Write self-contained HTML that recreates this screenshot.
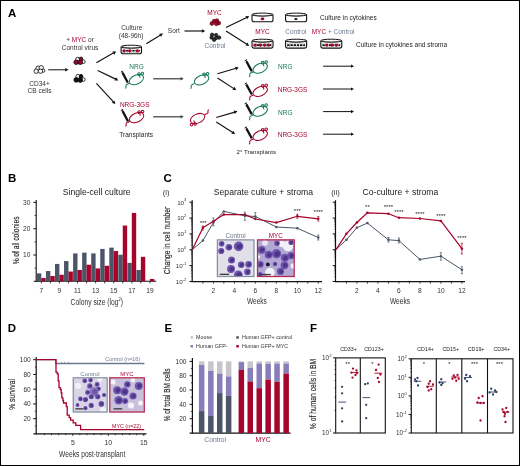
<!DOCTYPE html>
<html><head><meta charset="utf-8"><style>
html,body{margin:0;padding:0;background:#fff;}
.wrap{position:relative;width:520px;height:466px;overflow:hidden;box-sizing:border-box;border:1px solid #000;}
svg{position:absolute;left:-1px;top:-1px;will-change:transform;}
text{font-family:"Liberation Sans",sans-serif;}
</style></head><body><div class="wrap">
<svg width="520" height="466" viewBox="0 0 520 466">
<text transform="translate(8.00,16.60)" font-size="11.5" fill="#000" text-anchor="start" font-weight="bold">A</text>
<text transform="translate(8.00,181.70)" font-size="11.5" fill="#000" text-anchor="start" font-weight="bold">B</text>
<text transform="translate(163.60,181.70)" font-size="11.5" fill="#000" text-anchor="start" font-weight="bold">C</text>
<text transform="translate(7.70,331.80)" font-size="11.5" fill="#000" text-anchor="start" font-weight="bold">D</text>
<text transform="translate(164.60,331.70)" font-size="11.5" fill="#000" text-anchor="start" font-weight="bold">E</text>
<text transform="translate(310.00,331.60)" font-size="11.5" fill="#000" text-anchor="start" font-weight="bold">F</text>
<circle cx="38.10" cy="68.20" r="2.2" fill="#fff" stroke="#111" stroke-width="0.85"/>
<circle cx="41.20" cy="67.80" r="2.2" fill="#fff" stroke="#111" stroke-width="0.85"/>
<circle cx="43.30" cy="70.70" r="1.6" fill="#fff" stroke="#111" stroke-width="0.85"/>
<circle cx="36.20" cy="71.20" r="2.2" fill="#fff" stroke="#111" stroke-width="0.85"/>
<circle cx="40.40" cy="71.20" r="2.2" fill="#fff" stroke="#111" stroke-width="0.85"/>
<line x1="48.20" y1="69.80" x2="65.70" y2="69.80" stroke="#111" stroke-width="1.0" />
<polygon points="68.60,69.80 65.20,71.60 65.20,68.00" fill="#111"/>
<text transform="translate(39.50,85.50)" font-size="6.5" fill="#333" text-anchor="middle" font-weight="normal">CD34+</text>
<text transform="translate(39.50,93.00)" font-size="6.5" fill="#333" text-anchor="middle" font-weight="normal">CB cells</text>
<text x="80" y="41.8" font-size="6.5" fill="#333" text-anchor="middle">+ <tspan fill="#a6042c">MYC</tspan> or</text>
<text transform="translate(80.00,49.60)" font-size="6.5" fill="#333" text-anchor="middle" font-weight="normal">Control virus</text>
<circle cx="77.60" cy="59.30" r="2.0" fill="#fff" stroke="#111" stroke-width="0.85"/>
<circle cx="81.00" cy="58.90" r="1.8" fill="#a6042c" stroke="#111" stroke-width="0.85"/>
<circle cx="83.40" cy="61.70" r="1.8" fill="#fff" stroke="#111" stroke-width="0.85"/>
<circle cx="76.20" cy="62.20" r="2.3" fill="#a6042c" stroke="#111" stroke-width="0.85"/>
<circle cx="80.30" cy="62.20" r="2.3" fill="#a6042c" stroke="#111" stroke-width="0.85"/>
<circle cx="77.90" cy="76.40" r="2.0" fill="#fff" stroke="#111" stroke-width="0.85"/>
<circle cx="81.00" cy="76.20" r="1.8" fill="#111" stroke="#111" stroke-width="0.85"/>
<circle cx="83.40" cy="79.50" r="1.8" fill="#fff" stroke="#111" stroke-width="0.85"/>
<circle cx="76.20" cy="79.90" r="2.3" fill="#111" stroke="#111" stroke-width="0.85"/>
<circle cx="80.30" cy="80.10" r="2.3" fill="#111" stroke="#111" stroke-width="0.85"/>
<line x1="96.40" y1="62.70" x2="113.68" y2="52.84" stroke="#111" stroke-width="1.15" />
<polygon points="116.20,51.40 114.14,54.65 112.35,51.52" fill="#111"/>
<line x1="97.70" y1="70.50" x2="115.69" y2="79.14" stroke="#111" stroke-width="1.15" />
<polygon points="118.30,80.40 114.46,80.55 116.02,77.30" fill="#111"/>
<line x1="96.40" y1="83.30" x2="113.44" y2="101.96" stroke="#111" stroke-width="1.15" />
<polygon points="115.40,104.10 111.78,102.80 114.44,100.38" fill="#111"/>
<text transform="translate(131.80,29.80)" font-size="6.5" fill="#333" text-anchor="middle" font-weight="normal">Culture</text>
<text transform="translate(131.10,37.60)" font-size="6.5" fill="#333" text-anchor="middle" font-weight="normal">(48-96h)</text>
<path d="M121.10,46.70 L121.10,52.00 Q121.10,53.80 123.30,53.80 L139.30,53.80 Q141.50,53.80 141.50,52.00 L141.50,46.70" fill="#fff" stroke="#111" stroke-width="1.1"/>
<ellipse cx="131.30" cy="46.70" rx="10.20" ry="1.5" fill="#fff" stroke="#111" stroke-width="1.0"/>
<path d="M121.70,47.00 Q131.30,49.30 140.90,47.00" fill="none" stroke="#333" stroke-width="0.6"/>
<line x1="122.70" y1="50.80" x2="139.90" y2="50.80" stroke="#111" stroke-width="1.6" stroke-dasharray="2.4 0.8"/>
<line x1="122.30" y1="48.90" x2="140.30" y2="48.90" stroke="#777" stroke-width="0.5" stroke-dasharray="1.5 1"/>
<line x1="122.30" y1="52.50" x2="140.30" y2="52.50" stroke="#666" stroke-width="0.5" stroke-dasharray="1.2 1"/>
<circle cx="124.10" cy="50.80" r="1.6" fill="#a6042c"/>
<circle cx="129.70" cy="50.80" r="1.6" fill="#a6042c"/>
<circle cx="137.40" cy="50.80" r="1.6" fill="#a6042c"/>
<line x1="146.30" y1="43.80" x2="160.54" y2="34.93" stroke="#111" stroke-width="1.15" />
<polygon points="163.00,33.40 161.07,36.73 159.16,33.67" fill="#111"/>
<text transform="translate(173.80,33.40)" font-size="6.5" fill="#333" text-anchor="middle" font-weight="normal">Sort</text>
<line x1="184.50" y1="31.00" x2="202.40" y2="31.00" stroke="#111" stroke-width="1.15" />
<polygon points="205.30,31.00 201.90,32.80 201.90,29.20" fill="#111"/>
<text transform="translate(214.50,15.00)" font-size="6.5" fill="#a6042c" text-anchor="middle" font-weight="normal">MYC</text>
<circle cx="214.10" cy="21.10" r="1.9" fill="#a6042c" stroke="#300" stroke-width="0.5"/>
<circle cx="216.90" cy="20.60" r="1.9" fill="#a6042c" stroke="#300" stroke-width="0.5"/>
<circle cx="211.90" cy="23.50" r="1.9" fill="#a6042c" stroke="#300" stroke-width="0.5"/>
<circle cx="218.80" cy="23.10" r="1.9" fill="#a6042c" stroke="#300" stroke-width="0.5"/>
<circle cx="216.30" cy="23.80" r="1.9" fill="#a6042c" stroke="#300" stroke-width="0.5"/>
<circle cx="212.10" cy="34.80" r="1.75" fill="#333" stroke="#000" stroke-width="0.6"/>
<circle cx="216.10" cy="35.10" r="1.75" fill="#333" stroke="#000" stroke-width="0.6"/>
<circle cx="211.60" cy="37.60" r="1.75" fill="#333" stroke="#000" stroke-width="0.6"/>
<circle cx="219.10" cy="37.60" r="1.75" fill="#333" stroke="#000" stroke-width="0.6"/>
<circle cx="216.10" cy="37.90" r="1.75" fill="#333" stroke="#000" stroke-width="0.6"/>
<circle cx="214.10" cy="39.80" r="1.75" fill="#333" stroke="#000" stroke-width="0.6"/>
<text transform="translate(215.00,48.20)" font-size="6.5" fill="#6e7890" text-anchor="middle" font-weight="normal">Control</text>
<line x1="226.00" y1="27.50" x2="246.69" y2="17.47" stroke="#111" stroke-width="1.15" />
<polygon points="249.30,16.20 247.03,19.30 245.46,16.06" fill="#111"/>
<line x1="226.00" y1="31.00" x2="246.86" y2="44.34" stroke="#111" stroke-width="1.15" />
<polygon points="249.30,45.90 245.47,45.58 247.41,42.55" fill="#111"/>
<path d="M252.00,14.60 L252.00,19.90 Q252.00,21.70 254.20,21.70 L270.80,21.70 Q273.00,21.70 273.00,19.90 L273.00,14.60" fill="#fff" stroke="#111" stroke-width="1.1"/>
<ellipse cx="262.50" cy="14.60" rx="10.50" ry="1.5" fill="#fff" stroke="#111" stroke-width="1.0"/>
<path d="M252.60,14.90 Q262.50,17.20 272.40,14.90" fill="none" stroke="#333" stroke-width="0.6"/>
<ellipse cx="262.5" cy="18.9" rx="1.9" ry="1.3" fill="#a6042c"/>
<path d="M285.60,14.60 L285.60,19.90 Q285.60,21.70 287.80,21.70 L304.40,21.70 Q306.60,21.70 306.60,19.90 L306.60,14.60" fill="#fff" stroke="#111" stroke-width="1.1"/>
<ellipse cx="296.10" cy="14.60" rx="10.50" ry="1.5" fill="#fff" stroke="#111" stroke-width="1.0"/>
<path d="M286.20,14.90 Q296.10,17.20 306.00,14.90" fill="none" stroke="#333" stroke-width="0.6"/>
<ellipse cx="295.9" cy="18.9" rx="1.7" ry="1.0" fill="#111"/>
<text transform="translate(320.00,19.80)" font-size="6.5" fill="#222" text-anchor="start" font-weight="normal">Culture in cytokines</text>
<text transform="translate(262.50,34.40)" font-size="6.5" fill="#a6042c" text-anchor="middle" font-weight="normal">MYC</text>
<text transform="translate(295.80,34.40)" font-size="6.5" fill="#6e7890" text-anchor="middle" font-weight="normal">Control</text>
<text x="311.7" y="34.4" font-size="6.5" fill="#6e7890"><tspan fill="#a6042c">MYC</tspan> + Control</text>
<path d="M252.00,40.70 L252.00,46.30 Q252.00,48.10 254.20,48.10 L270.80,48.10 Q273.00,48.10 273.00,46.30 L273.00,40.70" fill="#fff" stroke="#111" stroke-width="1.1"/>
<ellipse cx="262.50" cy="40.70" rx="10.50" ry="1.5" fill="#fff" stroke="#111" stroke-width="1.0"/>
<path d="M252.60,41.00 Q262.50,43.30 272.40,41.00" fill="none" stroke="#333" stroke-width="0.6"/>
<line x1="253.60" y1="45.10" x2="271.40" y2="45.10" stroke="#111" stroke-width="1.6" stroke-dasharray="2.4 0.8"/>
<line x1="253.20" y1="43.20" x2="271.80" y2="43.20" stroke="#777" stroke-width="0.5" stroke-dasharray="1.5 1"/>
<line x1="253.20" y1="46.80" x2="271.80" y2="46.80" stroke="#666" stroke-width="0.5" stroke-dasharray="1.2 1"/>
<circle cx="255.20" cy="45.10" r="1.6" fill="#a6042c"/>
<circle cx="260.40" cy="45.10" r="1.6" fill="#a6042c"/>
<circle cx="264.70" cy="45.10" r="1.6" fill="#a6042c"/>
<circle cx="268.50" cy="45.10" r="1.6" fill="#a6042c"/>
<path d="M285.60,40.70 L285.60,46.30 Q285.60,48.10 287.80,48.10 L304.40,48.10 Q306.60,48.10 306.60,46.30 L306.60,40.70" fill="#fff" stroke="#111" stroke-width="1.1"/>
<ellipse cx="296.10" cy="40.70" rx="10.50" ry="1.5" fill="#fff" stroke="#111" stroke-width="1.0"/>
<path d="M286.20,41.00 Q296.10,43.30 306.00,41.00" fill="none" stroke="#333" stroke-width="0.6"/>
<line x1="287.20" y1="45.10" x2="305.00" y2="45.10" stroke="#111" stroke-width="1.6" stroke-dasharray="2.4 0.8"/>
<line x1="286.80" y1="43.20" x2="305.40" y2="43.20" stroke="#777" stroke-width="0.5" stroke-dasharray="1.5 1"/>
<line x1="286.80" y1="46.80" x2="305.40" y2="46.80" stroke="#666" stroke-width="0.5" stroke-dasharray="1.2 1"/>
<path d="M320.80,40.70 L320.80,46.30 Q320.80,48.10 323.00,48.10 L339.60,48.10 Q341.80,48.10 341.80,46.30 L341.80,40.70" fill="#fff" stroke="#111" stroke-width="1.1"/>
<ellipse cx="331.30" cy="40.70" rx="10.50" ry="1.5" fill="#fff" stroke="#111" stroke-width="1.0"/>
<path d="M321.40,41.00 Q331.30,43.30 341.20,41.00" fill="none" stroke="#333" stroke-width="0.6"/>
<line x1="322.40" y1="45.10" x2="340.20" y2="45.10" stroke="#111" stroke-width="1.6" stroke-dasharray="2.4 0.8"/>
<line x1="322.00" y1="43.20" x2="340.60" y2="43.20" stroke="#777" stroke-width="0.5" stroke-dasharray="1.5 1"/>
<line x1="322.00" y1="46.80" x2="340.60" y2="46.80" stroke="#666" stroke-width="0.5" stroke-dasharray="1.2 1"/>
<circle cx="326.80" cy="45.10" r="1.6" fill="#a6042c"/>
<circle cx="331.80" cy="45.10" r="1.6" fill="#a6042c"/>
<circle cx="336.30" cy="45.10" r="1.6" fill="#a6042c"/>
<text transform="translate(356.00,47.30)" font-size="6.5" fill="#222" text-anchor="start" font-weight="normal">Culture in cytokines and stroma</text>
<text transform="translate(136.50,69.40)" font-size="6.5" fill="#177a5e" text-anchor="middle" font-weight="normal">NRG</text>
<line x1="122.56" y1="72.66" x2="127.73" y2="82.51" stroke="#111" stroke-width="2.3" />
<line x1="120.85" y1="72.20" x2="123.15" y2="71.00" stroke="#111" stroke-width="1.0" />
<line x1="122.00" y1="71.60" x2="122.70" y2="72.93" stroke="#111" stroke-width="0.8" />
<line x1="127.64" y1="82.34" x2="128.67" y2="84.29" stroke="#111" stroke-width="0.6" />
<g transform="translate(136.40,79.60) rotate(0)" fill="none" stroke="#177a5e" stroke-width="1.05" stroke-linecap="round"><ellipse cx="0" cy="0" rx="7.6" ry="4.5" transform="rotate(-24)"/><path d="M3.2,-4.4 L3.6,-2.2"/><circle cx="2.5" cy="-5.5" r="1.3"/><circle cx="6.0" cy="-6.1" r="1.3"/><path d="M-7.2,3.8 C-8.6,4.6 -10,4.8 -10.4,5.8 C-10.8,6.8 -9.6,7.2 -10.8,8.6"/></g>
<text transform="translate(134.70,107.20)" font-size="6.5" fill="#a6042c" text-anchor="middle" font-weight="normal">NRG-3GS</text>
<line x1="122.55" y1="110.96" x2="127.94" y2="121.31" stroke="#111" stroke-width="2.3" />
<line x1="120.85" y1="110.50" x2="123.15" y2="109.30" stroke="#111" stroke-width="1.0" />
<line x1="122.00" y1="109.90" x2="122.69" y2="111.23" stroke="#111" stroke-width="0.8" />
<line x1="127.85" y1="121.14" x2="128.86" y2="123.09" stroke="#111" stroke-width="0.6" />
<g transform="translate(136.60,117.60) rotate(0)" fill="none" stroke="#a6042c" stroke-width="1.05" stroke-linecap="round"><ellipse cx="0" cy="0" rx="7.6" ry="4.5" transform="rotate(-24)"/><path d="M3.2,-4.4 L3.6,-2.2"/><circle cx="2.5" cy="-5.5" r="1.3"/><circle cx="6.0" cy="-6.1" r="1.3"/><path d="M-7.2,3.8 C-8.6,4.6 -10,4.8 -10.4,5.8 C-10.8,6.8 -9.6,7.2 -10.8,8.6"/></g>
<text transform="translate(136.20,137.30)" font-size="6.5" fill="#222" text-anchor="middle" font-weight="normal">Transplants</text>
<line x1="153.20" y1="78.80" x2="181.10" y2="78.80" stroke="#3a3a3a" stroke-width="1.2" />
<polygon points="183.60,78.80 180.60,80.60 180.60,77.00" fill="#3a3a3a"/>
<line x1="153.20" y1="116.80" x2="181.10" y2="116.80" stroke="#3a3a3a" stroke-width="1.2" />
<polygon points="183.60,116.80 180.60,118.60 180.60,115.00" fill="#3a3a3a"/>
<g transform="translate(201.60,79.80) rotate(0)" fill="none" stroke="#177a5e" stroke-width="1.05" stroke-linecap="round"><ellipse cx="0" cy="0" rx="7.6" ry="4.5" transform="rotate(-24)"/><path d="M3.2,-4.4 L3.6,-2.2"/><circle cx="2.5" cy="-5.5" r="1.3"/><circle cx="6.0" cy="-6.1" r="1.3"/><path d="M-7.2,3.8 C-8.6,4.6 -10,4.8 -10.4,5.8 C-10.8,6.8 -9.6,7.2 -10.8,8.6"/></g>
<g transform="translate(197.60,118.50) rotate(180)" fill="none" stroke="#a6042c" stroke-width="1.05" stroke-linecap="round"><ellipse cx="0" cy="0" rx="7.6" ry="4.5" transform="rotate(-24)"/><path d="M3.2,-4.4 L3.6,-2.2"/><circle cx="2.5" cy="-5.5" r="1.3"/><circle cx="6.0" cy="-6.1" r="1.3"/><path d="M-7.2,3.8 C-8.6,4.6 -10,4.8 -10.4,5.8 C-10.8,6.8 -9.6,7.2 -10.8,8.6"/></g>
<line x1="217.50" y1="73.80" x2="236.02" y2="68.32" stroke="#111" stroke-width="1.15" />
<polygon points="238.80,67.50 236.05,70.19 235.03,66.74" fill="#111"/>
<line x1="217.50" y1="78.00" x2="233.87" y2="88.62" stroke="#111" stroke-width="1.15" />
<polygon points="236.30,90.20 232.47,89.86 234.43,86.84" fill="#111"/>
<line x1="216.30" y1="117.50" x2="234.72" y2="112.11" stroke="#111" stroke-width="1.15" />
<polygon points="237.50,111.30 234.74,113.98 233.73,110.53" fill="#111"/>
<line x1="216.30" y1="122.00" x2="232.75" y2="132.45" stroke="#111" stroke-width="1.15" />
<polygon points="235.20,134.00 231.36,133.70 233.29,130.66" fill="#111"/>
<line x1="246.37" y1="61.25" x2="251.72" y2="71.12" stroke="#111" stroke-width="2.3" />
<line x1="244.66" y1="60.82" x2="246.94" y2="59.58" stroke="#111" stroke-width="1.0" />
<line x1="245.80" y1="60.20" x2="246.52" y2="61.52" stroke="#111" stroke-width="0.8" />
<line x1="251.63" y1="70.95" x2="252.68" y2="72.88" stroke="#111" stroke-width="0.6" />
<g transform="translate(260.20,68.10) rotate(0)" fill="none" stroke="#177a5e" stroke-width="1.05" stroke-linecap="round"><ellipse cx="0" cy="0" rx="7.6" ry="4.5" transform="rotate(-24)"/><path d="M3.2,-4.4 L3.6,-2.2"/><circle cx="2.5" cy="-5.5" r="1.3"/><circle cx="6.0" cy="-6.1" r="1.3"/><path d="M-7.2,3.8 C-8.6,4.6 -10,4.8 -10.4,5.8 C-10.8,6.8 -9.6,7.2 -10.8,8.6"/></g>
<text transform="translate(285.30,69.10)" font-size="6.5" fill="#177a5e" text-anchor="middle" font-weight="normal">NRG</text>
<line x1="323.10" y1="66.20" x2="351.50" y2="66.20" stroke="#111" stroke-width="1.0" />
<polygon points="354.00,66.20 351.00,67.80 351.00,64.60" fill="#111"/>
<line x1="246.37" y1="84.45" x2="251.72" y2="94.32" stroke="#111" stroke-width="2.3" />
<line x1="244.66" y1="84.02" x2="246.94" y2="82.78" stroke="#111" stroke-width="1.0" />
<line x1="245.80" y1="83.40" x2="246.52" y2="84.72" stroke="#111" stroke-width="0.8" />
<line x1="251.63" y1="94.15" x2="252.68" y2="96.08" stroke="#111" stroke-width="0.6" />
<g transform="translate(260.20,91.30) rotate(0)" fill="none" stroke="#a6042c" stroke-width="1.05" stroke-linecap="round"><ellipse cx="0" cy="0" rx="7.6" ry="4.5" transform="rotate(-24)"/><path d="M3.2,-4.4 L3.6,-2.2"/><circle cx="2.5" cy="-5.5" r="1.3"/><circle cx="6.0" cy="-6.1" r="1.3"/><path d="M-7.2,3.8 C-8.6,4.6 -10,4.8 -10.4,5.8 C-10.8,6.8 -9.6,7.2 -10.8,8.6"/></g>
<text transform="translate(292.50,91.90)" font-size="6.5" fill="#a6042c" text-anchor="middle" font-weight="normal">NRG-3GS</text>
<line x1="323.10" y1="89.00" x2="351.50" y2="89.00" stroke="#111" stroke-width="1.0" />
<polygon points="354.00,89.00 351.00,90.60 351.00,87.40" fill="#111"/>
<line x1="246.37" y1="104.35" x2="251.72" y2="114.22" stroke="#111" stroke-width="2.3" />
<line x1="244.66" y1="103.92" x2="246.94" y2="102.68" stroke="#111" stroke-width="1.0" />
<line x1="245.80" y1="103.30" x2="246.52" y2="104.62" stroke="#111" stroke-width="0.8" />
<line x1="251.63" y1="114.05" x2="252.68" y2="115.98" stroke="#111" stroke-width="0.6" />
<g transform="translate(260.20,111.20) rotate(0)" fill="none" stroke="#177a5e" stroke-width="1.05" stroke-linecap="round"><ellipse cx="0" cy="0" rx="7.6" ry="4.5" transform="rotate(-24)"/><path d="M3.2,-4.4 L3.6,-2.2"/><circle cx="2.5" cy="-5.5" r="1.3"/><circle cx="6.0" cy="-6.1" r="1.3"/><path d="M-7.2,3.8 C-8.6,4.6 -10,4.8 -10.4,5.8 C-10.8,6.8 -9.6,7.2 -10.8,8.6"/></g>
<text transform="translate(285.30,114.50)" font-size="6.5" fill="#177a5e" text-anchor="middle" font-weight="normal">NRG</text>
<line x1="323.10" y1="111.60" x2="351.50" y2="111.60" stroke="#111" stroke-width="1.0" />
<polygon points="354.00,111.60 351.00,113.20 351.00,110.00" fill="#111"/>
<line x1="246.37" y1="128.45" x2="251.72" y2="138.32" stroke="#111" stroke-width="2.3" />
<line x1="244.66" y1="128.02" x2="246.94" y2="126.78" stroke="#111" stroke-width="1.0" />
<line x1="245.80" y1="127.40" x2="246.52" y2="128.72" stroke="#111" stroke-width="0.8" />
<line x1="251.63" y1="138.15" x2="252.68" y2="140.08" stroke="#111" stroke-width="0.6" />
<g transform="translate(260.20,135.30) rotate(0)" fill="none" stroke="#a6042c" stroke-width="1.05" stroke-linecap="round"><ellipse cx="0" cy="0" rx="7.6" ry="4.5" transform="rotate(-24)"/><path d="M3.2,-4.4 L3.6,-2.2"/><circle cx="2.5" cy="-5.5" r="1.3"/><circle cx="6.0" cy="-6.1" r="1.3"/><path d="M-7.2,3.8 C-8.6,4.6 -10,4.8 -10.4,5.8 C-10.8,6.8 -9.6,7.2 -10.8,8.6"/></g>
<text transform="translate(292.50,137.10)" font-size="6.5" fill="#a6042c" text-anchor="middle" font-weight="normal">NRG-3GS</text>
<line x1="323.10" y1="134.20" x2="351.50" y2="134.20" stroke="#111" stroke-width="1.0" />
<polygon points="354.00,134.20 351.00,135.80 351.00,132.60" fill="#111"/>
<text transform="translate(256.30,154.40)" font-size="6.2" fill="#222" text-anchor="middle" font-weight="normal">2° Transplants</text>
<text transform="translate(96.70,195.30)" font-size="8.6" fill="#222" text-anchor="middle" font-weight="normal">Single-cell culture</text>
<line x1="36.20" y1="200.00" x2="36.20" y2="281.90" stroke="#111" stroke-width="1.1" />
<line x1="33.60" y1="281.30" x2="156.30" y2="281.30" stroke="#111" stroke-width="1.1" />
<line x1="33.40" y1="255.00" x2="36.20" y2="255.00" stroke="#111" stroke-width="1.0" />
<text transform="translate(30.40,257.40)" font-size="6.6" fill="#333" text-anchor="end" font-weight="normal">10</text>
<line x1="33.40" y1="228.70" x2="36.20" y2="228.70" stroke="#111" stroke-width="1.0" />
<text transform="translate(30.40,231.10)" font-size="6.6" fill="#333" text-anchor="end" font-weight="normal">20</text>
<line x1="33.40" y1="202.40" x2="36.20" y2="202.40" stroke="#111" stroke-width="1.0" />
<text transform="translate(30.40,204.80)" font-size="6.6" fill="#333" text-anchor="end" font-weight="normal">30</text>
<line x1="34.60" y1="268.15" x2="36.20" y2="268.15" stroke="#111" stroke-width="0.8" />
<line x1="34.60" y1="241.85" x2="36.20" y2="241.85" stroke="#111" stroke-width="0.8" />
<line x1="34.60" y1="215.55" x2="36.20" y2="215.55" stroke="#111" stroke-width="0.8" />
<rect x="36.90" y="273.41" width="4.40" height="7.89" fill="#4b5567" />
<rect x="41.30" y="277.99" width="4.40" height="3.31" fill="#a6042c" />
<line x1="41.30" y1="281.30" x2="41.30" y2="283.40" stroke="#111" stroke-width="0.8" />
<rect x="45.95" y="271.04" width="4.40" height="10.26" fill="#4b5567" />
<rect x="50.35" y="276.04" width="4.40" height="5.26" fill="#a6042c" />
<line x1="50.35" y1="281.30" x2="50.35" y2="283.40" stroke="#111" stroke-width="0.8" />
<rect x="55.00" y="263.94" width="4.40" height="17.36" fill="#4b5567" />
<rect x="59.40" y="274.73" width="4.40" height="6.57" fill="#a6042c" />
<line x1="59.40" y1="281.30" x2="59.40" y2="283.40" stroke="#111" stroke-width="0.8" />
<rect x="64.05" y="261.05" width="4.40" height="20.25" fill="#4b5567" />
<rect x="68.45" y="271.57" width="4.40" height="9.73" fill="#a6042c" />
<line x1="68.45" y1="281.30" x2="68.45" y2="283.40" stroke="#111" stroke-width="0.8" />
<rect x="73.10" y="253.42" width="4.40" height="27.88" fill="#4b5567" />
<rect x="77.50" y="269.99" width="4.40" height="11.31" fill="#a6042c" />
<line x1="77.50" y1="281.30" x2="77.50" y2="283.40" stroke="#111" stroke-width="0.8" />
<rect x="82.15" y="252.63" width="4.40" height="28.67" fill="#4b5567" />
<rect x="86.55" y="264.73" width="4.40" height="16.57" fill="#a6042c" />
<line x1="86.55" y1="281.30" x2="86.55" y2="283.40" stroke="#111" stroke-width="0.8" />
<rect x="91.20" y="253.42" width="4.40" height="27.88" fill="#4b5567" />
<rect x="95.60" y="268.41" width="4.40" height="12.89" fill="#a6042c" />
<line x1="95.60" y1="281.30" x2="95.60" y2="283.40" stroke="#111" stroke-width="0.8" />
<rect x="100.25" y="248.95" width="4.40" height="32.35" fill="#4b5567" />
<rect x="104.65" y="265.78" width="4.40" height="15.52" fill="#a6042c" />
<line x1="104.65" y1="281.30" x2="104.65" y2="283.40" stroke="#111" stroke-width="0.8" />
<rect x="109.30" y="247.64" width="4.40" height="33.66" fill="#4b5567" />
<rect x="113.70" y="251.06" width="4.40" height="30.25" fill="#a6042c" />
<line x1="113.70" y1="281.30" x2="113.70" y2="283.40" stroke="#111" stroke-width="0.8" />
<rect x="118.35" y="254.74" width="4.40" height="26.56" fill="#4b5567" />
<rect x="122.75" y="225.54" width="4.40" height="55.76" fill="#a6042c" />
<line x1="122.75" y1="281.30" x2="122.75" y2="283.40" stroke="#111" stroke-width="0.8" />
<rect x="127.40" y="262.89" width="4.40" height="18.41" fill="#4b5567" />
<rect x="131.80" y="212.92" width="4.40" height="68.38" fill="#a6042c" />
<line x1="131.80" y1="281.30" x2="131.80" y2="283.40" stroke="#111" stroke-width="0.8" />
<rect x="136.45" y="269.99" width="4.40" height="11.31" fill="#4b5567" />
<rect x="140.85" y="256.84" width="4.40" height="24.46" fill="#a6042c" />
<line x1="140.85" y1="281.30" x2="140.85" y2="283.40" stroke="#111" stroke-width="0.8" />
<rect x="149.90" y="278.93" width="4.40" height="2.37" fill="#a6042c" />
<line x1="149.90" y1="281.30" x2="149.90" y2="283.40" stroke="#111" stroke-width="0.8" />
<text transform="translate(41.30,292.80)" font-size="6.6" fill="#333" text-anchor="middle" font-weight="normal">7</text>
<text transform="translate(59.40,292.80)" font-size="6.6" fill="#333" text-anchor="middle" font-weight="normal">9</text>
<text transform="translate(77.50,292.80)" font-size="6.6" fill="#333" text-anchor="middle" font-weight="normal">11</text>
<text transform="translate(95.60,292.80)" font-size="6.6" fill="#333" text-anchor="middle" font-weight="normal">13</text>
<text transform="translate(113.70,292.80)" font-size="6.6" fill="#333" text-anchor="middle" font-weight="normal">15</text>
<text transform="translate(131.80,292.80)" font-size="6.6" fill="#333" text-anchor="middle" font-weight="normal">17</text>
<text transform="translate(149.90,292.80)" font-size="6.6" fill="#333" text-anchor="middle" font-weight="normal">19</text>
<text transform="translate(96.8,304.5) scale(0.750,1)" font-size="9" fill="#333" text-anchor="middle">Colony size (log<tspan font-size="5.4" dy="-3.2">2</tspan><tspan dy="3.2">)</tspan></text>
<text transform="translate(19.30,240.40) rotate(-90) scale(0.707,1)" font-size="9.4" fill="#2a2a2a" stroke="#2a2a2a" stroke-width="0.18" text-anchor="middle">% of all colonies</text>
<text transform="translate(162.80,195.00)" font-size="7.6" fill="#333" text-anchor="start" font-weight="normal">(i)</text>
<text transform="translate(263.40,195.30)" font-size="8.6" fill="#222" text-anchor="middle" font-weight="normal">Separate culture + stroma</text>
<line x1="192.20" y1="200.20" x2="192.20" y2="282.00" stroke="#111" stroke-width="1.2" />
<line x1="189.40" y1="202.20" x2="192.20" y2="202.20" stroke="#111" stroke-width="1.0" />
<line x1="190.90" y1="213.28" x2="192.20" y2="213.28" stroke="#111" stroke-width="0.5" />
<line x1="190.90" y1="210.49" x2="192.20" y2="210.49" stroke="#111" stroke-width="0.5" />
<line x1="190.90" y1="208.51" x2="192.20" y2="208.51" stroke="#111" stroke-width="0.5" />
<line x1="190.90" y1="206.97" x2="192.20" y2="206.97" stroke="#111" stroke-width="0.5" />
<line x1="190.90" y1="205.72" x2="192.20" y2="205.72" stroke="#111" stroke-width="0.5" />
<line x1="190.90" y1="204.66" x2="192.20" y2="204.66" stroke="#111" stroke-width="0.5" />
<line x1="190.90" y1="203.74" x2="192.20" y2="203.74" stroke="#111" stroke-width="0.5" />
<line x1="190.90" y1="202.93" x2="192.20" y2="202.93" stroke="#111" stroke-width="0.5" />
<text transform="translate(186.40,204.50) scale(1.0,1)" font-size="6.2" fill="#333" text-anchor="end">10<tspan font-size="4.22" dy="-3.10">3</tspan></text>
<line x1="189.40" y1="218.05" x2="192.20" y2="218.05" stroke="#111" stroke-width="1.0" />
<line x1="190.90" y1="229.13" x2="192.20" y2="229.13" stroke="#111" stroke-width="0.5" />
<line x1="190.90" y1="226.34" x2="192.20" y2="226.34" stroke="#111" stroke-width="0.5" />
<line x1="190.90" y1="224.36" x2="192.20" y2="224.36" stroke="#111" stroke-width="0.5" />
<line x1="190.90" y1="222.82" x2="192.20" y2="222.82" stroke="#111" stroke-width="0.5" />
<line x1="190.90" y1="221.57" x2="192.20" y2="221.57" stroke="#111" stroke-width="0.5" />
<line x1="190.90" y1="220.51" x2="192.20" y2="220.51" stroke="#111" stroke-width="0.5" />
<line x1="190.90" y1="219.59" x2="192.20" y2="219.59" stroke="#111" stroke-width="0.5" />
<line x1="190.90" y1="218.78" x2="192.20" y2="218.78" stroke="#111" stroke-width="0.5" />
<text transform="translate(186.40,220.35) scale(1.0,1)" font-size="6.2" fill="#333" text-anchor="end">10<tspan font-size="4.22" dy="-3.10">2</tspan></text>
<line x1="189.40" y1="233.90" x2="192.20" y2="233.90" stroke="#111" stroke-width="1.0" />
<line x1="190.90" y1="244.98" x2="192.20" y2="244.98" stroke="#111" stroke-width="0.5" />
<line x1="190.90" y1="242.19" x2="192.20" y2="242.19" stroke="#111" stroke-width="0.5" />
<line x1="190.90" y1="240.21" x2="192.20" y2="240.21" stroke="#111" stroke-width="0.5" />
<line x1="190.90" y1="238.67" x2="192.20" y2="238.67" stroke="#111" stroke-width="0.5" />
<line x1="190.90" y1="237.42" x2="192.20" y2="237.42" stroke="#111" stroke-width="0.5" />
<line x1="190.90" y1="236.36" x2="192.20" y2="236.36" stroke="#111" stroke-width="0.5" />
<line x1="190.90" y1="235.44" x2="192.20" y2="235.44" stroke="#111" stroke-width="0.5" />
<line x1="190.90" y1="234.63" x2="192.20" y2="234.63" stroke="#111" stroke-width="0.5" />
<text transform="translate(186.40,236.20) scale(1.0,1)" font-size="6.2" fill="#333" text-anchor="end">10<tspan font-size="4.22" dy="-3.10">1</tspan></text>
<line x1="189.40" y1="249.75" x2="192.20" y2="249.75" stroke="#111" stroke-width="1.0" />
<line x1="190.90" y1="260.83" x2="192.20" y2="260.83" stroke="#111" stroke-width="0.5" />
<line x1="190.90" y1="258.04" x2="192.20" y2="258.04" stroke="#111" stroke-width="0.5" />
<line x1="190.90" y1="256.06" x2="192.20" y2="256.06" stroke="#111" stroke-width="0.5" />
<line x1="190.90" y1="254.52" x2="192.20" y2="254.52" stroke="#111" stroke-width="0.5" />
<line x1="190.90" y1="253.27" x2="192.20" y2="253.27" stroke="#111" stroke-width="0.5" />
<line x1="190.90" y1="252.21" x2="192.20" y2="252.21" stroke="#111" stroke-width="0.5" />
<line x1="190.90" y1="251.29" x2="192.20" y2="251.29" stroke="#111" stroke-width="0.5" />
<line x1="190.90" y1="250.48" x2="192.20" y2="250.48" stroke="#111" stroke-width="0.5" />
<text transform="translate(186.40,252.05) scale(1.0,1)" font-size="6.2" fill="#333" text-anchor="end">10<tspan font-size="4.22" dy="-3.10">0</tspan></text>
<line x1="189.40" y1="265.60" x2="192.20" y2="265.60" stroke="#111" stroke-width="1.0" />
<line x1="190.90" y1="276.68" x2="192.20" y2="276.68" stroke="#111" stroke-width="0.5" />
<line x1="190.90" y1="273.89" x2="192.20" y2="273.89" stroke="#111" stroke-width="0.5" />
<line x1="190.90" y1="271.91" x2="192.20" y2="271.91" stroke="#111" stroke-width="0.5" />
<line x1="190.90" y1="270.37" x2="192.20" y2="270.37" stroke="#111" stroke-width="0.5" />
<line x1="190.90" y1="269.12" x2="192.20" y2="269.12" stroke="#111" stroke-width="0.5" />
<line x1="190.90" y1="268.06" x2="192.20" y2="268.06" stroke="#111" stroke-width="0.5" />
<line x1="190.90" y1="267.14" x2="192.20" y2="267.14" stroke="#111" stroke-width="0.5" />
<line x1="190.90" y1="266.33" x2="192.20" y2="266.33" stroke="#111" stroke-width="0.5" />
<text transform="translate(186.40,267.90) scale(1.0,1)" font-size="6.2" fill="#333" text-anchor="end">10<tspan font-size="4.22" dy="-3.10">-1</tspan></text>
<line x1="189.40" y1="281.45" x2="192.20" y2="281.45" stroke="#111" stroke-width="1.0" />
<text transform="translate(186.40,283.75) scale(1.0,1)" font-size="6.2" fill="#333" text-anchor="end">10<tspan font-size="4.22" dy="-3.10">-2</tspan></text>
<line x1="191.20" y1="281.60" x2="322.00" y2="281.60" stroke="#111" stroke-width="1.1" />
<line x1="202.89" y1="281.60" x2="202.89" y2="283.60" stroke="#111" stroke-width="0.8" />
<line x1="213.38" y1="281.60" x2="213.38" y2="283.60" stroke="#111" stroke-width="0.8" />
<line x1="223.87" y1="281.60" x2="223.87" y2="283.60" stroke="#111" stroke-width="0.8" />
<line x1="234.36" y1="281.60" x2="234.36" y2="283.60" stroke="#111" stroke-width="0.8" />
<line x1="244.85" y1="281.60" x2="244.85" y2="283.60" stroke="#111" stroke-width="0.8" />
<line x1="255.34" y1="281.60" x2="255.34" y2="283.60" stroke="#111" stroke-width="0.8" />
<line x1="265.83" y1="281.60" x2="265.83" y2="283.60" stroke="#111" stroke-width="0.8" />
<line x1="276.32" y1="281.60" x2="276.32" y2="283.60" stroke="#111" stroke-width="0.8" />
<line x1="286.81" y1="281.60" x2="286.81" y2="283.60" stroke="#111" stroke-width="0.8" />
<line x1="297.30" y1="281.60" x2="297.30" y2="283.60" stroke="#111" stroke-width="0.8" />
<line x1="307.79" y1="281.60" x2="307.79" y2="283.60" stroke="#111" stroke-width="0.8" />
<line x1="318.28" y1="281.60" x2="318.28" y2="283.60" stroke="#111" stroke-width="0.8" />
<text transform="translate(213.38,292.80)" font-size="6.6" fill="#333" text-anchor="middle" font-weight="normal">2</text>
<text transform="translate(234.36,292.80)" font-size="6.6" fill="#333" text-anchor="middle" font-weight="normal">4</text>
<text transform="translate(255.34,292.80)" font-size="6.6" fill="#333" text-anchor="middle" font-weight="normal">6</text>
<text transform="translate(276.32,292.80)" font-size="6.6" fill="#333" text-anchor="middle" font-weight="normal">8</text>
<text transform="translate(297.30,292.80)" font-size="6.6" fill="#333" text-anchor="middle" font-weight="normal">10</text>
<text transform="translate(318.28,292.80)" font-size="6.6" fill="#333" text-anchor="middle" font-weight="normal">12</text>
<text transform="translate(256.90,304.20) scale(0.731,1)" font-size="9" fill="#333" text-anchor="middle" font-weight="normal">Weeks</text>
<text transform="translate(170.40,240.40) rotate(-90) scale(0.719,1)" font-size="9.4" fill="#2a2a2a" stroke="#2a2a2a" stroke-width="0.18" text-anchor="middle">Change in cell number</text>
<polyline points="192.40,249.60 202.89,240.60 213.38,222.60 223.87,211.40 244.85,215.80 255.34,216.50 276.32,227.00 297.30,228.20 318.28,237.50" fill="none" stroke="#4b5567" stroke-width="1.0" stroke-linejoin="round"/>
<circle cx="202.89" cy="240.60" r="1.25" fill="#4b5567"/>
<circle cx="213.38" cy="222.60" r="1.25" fill="#4b5567"/>
<circle cx="223.87" cy="211.40" r="1.25" fill="#4b5567"/>
<circle cx="244.85" cy="215.80" r="1.25" fill="#4b5567"/>
<circle cx="255.34" cy="216.50" r="1.25" fill="#4b5567"/>
<circle cx="276.32" cy="227.00" r="1.25" fill="#4b5567"/>
<circle cx="297.30" cy="228.20" r="1.25" fill="#4b5567"/>
<circle cx="318.28" cy="237.50" r="1.25" fill="#4b5567"/>
<polyline points="192.40,249.60 202.89,227.80 213.38,221.30 223.87,214.60 244.85,214.60 255.34,219.00 276.32,222.60 297.30,216.30 318.28,218.80" fill="none" stroke="#a6042c" stroke-width="1.2" stroke-linejoin="round"/>
<circle cx="202.89" cy="227.80" r="1.25" fill="#a6042c"/>
<circle cx="213.38" cy="221.30" r="1.25" fill="#a6042c"/>
<circle cx="223.87" cy="214.60" r="1.25" fill="#a6042c"/>
<circle cx="244.85" cy="214.60" r="1.25" fill="#a6042c"/>
<circle cx="255.34" cy="219.00" r="1.25" fill="#a6042c"/>
<circle cx="276.32" cy="222.60" r="1.25" fill="#a6042c"/>
<circle cx="297.30" cy="216.30" r="1.25" fill="#a6042c"/>
<circle cx="318.28" cy="218.80" r="1.25" fill="#a6042c"/>
<line x1="213.38" y1="218.00" x2="213.38" y2="225.70" stroke="#4b5567" stroke-width="0.7" />
<line x1="212.28" y1="218.00" x2="214.48" y2="218.00" stroke="#4b5567" stroke-width="0.7" />
<line x1="212.28" y1="225.70" x2="214.48" y2="225.70" stroke="#4b5567" stroke-width="0.7" />
<line x1="244.85" y1="212.00" x2="244.85" y2="220.30" stroke="#4b5567" stroke-width="0.7" />
<line x1="243.75" y1="212.00" x2="245.95" y2="212.00" stroke="#4b5567" stroke-width="0.7" />
<line x1="243.75" y1="220.30" x2="245.95" y2="220.30" stroke="#4b5567" stroke-width="0.7" />
<line x1="255.34" y1="212.60" x2="255.34" y2="219.50" stroke="#4b5567" stroke-width="0.7" />
<line x1="254.24" y1="212.60" x2="256.44" y2="212.60" stroke="#4b5567" stroke-width="0.7" />
<line x1="254.24" y1="219.50" x2="256.44" y2="219.50" stroke="#4b5567" stroke-width="0.7" />
<line x1="318.28" y1="235.00" x2="318.28" y2="240.00" stroke="#4b5567" stroke-width="0.7" />
<line x1="317.18" y1="235.00" x2="319.38" y2="235.00" stroke="#4b5567" stroke-width="0.7" />
<line x1="317.18" y1="240.00" x2="319.38" y2="240.00" stroke="#4b5567" stroke-width="0.7" />
<line x1="297.30" y1="214.30" x2="297.30" y2="218.20" stroke="#a6042c" stroke-width="0.7" />
<line x1="296.20" y1="214.30" x2="298.40" y2="214.30" stroke="#a6042c" stroke-width="0.7" />
<line x1="296.20" y1="218.20" x2="298.40" y2="218.20" stroke="#a6042c" stroke-width="0.7" />
<line x1="318.28" y1="216.60" x2="318.28" y2="221.00" stroke="#a6042c" stroke-width="0.7" />
<line x1="317.18" y1="216.60" x2="319.38" y2="216.60" stroke="#a6042c" stroke-width="0.7" />
<line x1="317.18" y1="221.00" x2="319.38" y2="221.00" stroke="#a6042c" stroke-width="0.7" />
<line x1="202.89" y1="226.00" x2="202.89" y2="230.00" stroke="#a6042c" stroke-width="0.7" />
<line x1="201.79" y1="226.00" x2="203.99" y2="226.00" stroke="#a6042c" stroke-width="0.7" />
<line x1="201.79" y1="230.00" x2="203.99" y2="230.00" stroke="#a6042c" stroke-width="0.7" />
<text transform="translate(203.19,224.80)" font-size="6" fill="#222" text-anchor="middle" font-weight="normal">***</text>
<text transform="translate(297.30,213.00)" font-size="6" fill="#222" text-anchor="middle" font-weight="normal">***</text>
<text transform="translate(318.28,214.40)" font-size="6" fill="#222" text-anchor="middle" font-weight="normal">****</text>
<clipPath id="cp11"><rect x="216.8" y="239.3" width="37.8" height="37.8"/></clipPath>
<rect x="216.80" y="239.30" width="37.80" height="37.80" fill="#e1e0ea" />
<g clip-path="url(#cp11)">
<circle cx="221.60" cy="243.70" r="2.80" fill="#6f55ad"/>
<ellipse cx="221.94" cy="243.98" rx="1.74" ry="1.54" fill="#4e3489" transform="rotate(-30 221.60 243.70)"/>
<circle cx="221.20" cy="251.00" r="3.10" fill="#6f55ad"/>
<ellipse cx="221.57" cy="251.31" rx="1.92" ry="1.71" fill="#4e3489" transform="rotate(-30 221.20 251.00)"/>
<circle cx="228.90" cy="247.20" r="3.30" fill="#6f55ad"/>
<ellipse cx="229.30" cy="247.53" rx="2.05" ry="1.81" fill="#4e3489" transform="rotate(-30 228.90 247.20)"/>
<circle cx="238.60" cy="246.40" r="4.80" fill="#6f55ad"/>
<ellipse cx="239.18" cy="246.88" rx="2.98" ry="2.64" fill="#4e3489" transform="rotate(-30 238.60 246.40)"/>
<circle cx="231.50" cy="260.00" r="3.50" fill="#6f55ad"/>
<ellipse cx="231.92" cy="260.35" rx="2.17" ry="1.93" fill="#4e3489" transform="rotate(-30 231.50 260.00)"/>
<circle cx="231.00" cy="269.00" r="4.00" fill="#6f55ad"/>
<ellipse cx="231.48" cy="269.40" rx="2.48" ry="2.20" fill="#4e3489" transform="rotate(-30 231.00 269.00)"/>
<circle cx="241.20" cy="264.80" r="3.30" fill="#6f55ad"/>
<ellipse cx="241.60" cy="265.13" rx="2.05" ry="1.81" fill="#4e3489" transform="rotate(-30 241.20 264.80)"/>
<circle cx="248.60" cy="264.40" r="3.30" fill="#6f55ad"/>
<ellipse cx="249.00" cy="264.73" rx="2.05" ry="1.81" fill="#4e3489" transform="rotate(-30 248.60 264.40)"/>
<circle cx="247.40" cy="271.90" r="3.30" fill="#6f55ad"/>
<ellipse cx="247.80" cy="272.23" rx="2.05" ry="1.81" fill="#4e3489" transform="rotate(-30 247.40 271.90)"/>
<circle cx="238.30" cy="274.80" r="4.40" fill="#6f55ad"/>
<ellipse cx="238.83" cy="275.24" rx="2.73" ry="2.42" fill="#4e3489" transform="rotate(-30 238.30 274.80)"/>
</g>
<rect x="219.80" y="273.70" width="9.30" height="1.30" fill="#3a3a3a" />
<rect x="217.40" y="239.90" width="36.60" height="36.60" fill="none" stroke="#8890a2" stroke-width="1.2"/>
<clipPath id="cp12"><rect x="256.9" y="239.3" width="37.9" height="37.8"/></clipPath>
<rect x="256.90" y="239.30" width="37.90" height="37.80" fill="#b3a7d3" />
<g clip-path="url(#cp12)">
<circle cx="288.00" cy="246.00" r="5.20" fill="#f2f1f7"/>
<circle cx="282.00" cy="244.00" r="3.20" fill="#f2f1f7"/>
<circle cx="270.00" cy="272.50" r="4.80" fill="#f2f1f7"/>
<circle cx="293.50" cy="266.00" r="2.80" fill="#f2f1f7"/>
<circle cx="265.00" cy="242.80" r="3.00" fill="#e8e6f2"/>
<circle cx="258.50" cy="257.00" r="1.80" fill="#ebe9f3"/>
<circle cx="267.80" cy="264.40" r="1.90" fill="#1a1030"/>
<circle cx="261.60" cy="249.90" r="3.90" fill="#6f55ad"/>
<ellipse cx="262.07" cy="250.29" rx="2.42" ry="2.15" fill="#4e3489" transform="rotate(-30 261.60 249.90)"/>
<circle cx="268.60" cy="254.70" r="3.90" fill="#6f55ad"/>
<ellipse cx="269.07" cy="255.09" rx="2.42" ry="2.15" fill="#4e3489" transform="rotate(-30 268.60 254.70)"/>
<circle cx="276.50" cy="253.80" r="4.70" fill="#6f55ad"/>
<ellipse cx="277.06" cy="254.27" rx="2.91" ry="2.59" fill="#4e3489" transform="rotate(-30 276.50 253.80)"/>
<circle cx="284.90" cy="257.80" r="4.10" fill="#6f55ad"/>
<ellipse cx="285.39" cy="258.21" rx="2.54" ry="2.25" fill="#4e3489" transform="rotate(-30 284.90 257.80)"/>
<circle cx="291.00" cy="255.60" r="3.60" fill="#6f55ad"/>
<ellipse cx="291.43" cy="255.96" rx="2.23" ry="1.98" fill="#4e3489" transform="rotate(-30 291.00 255.60)"/>
<circle cx="284.50" cy="265.30" r="3.90" fill="#6f55ad"/>
<ellipse cx="284.97" cy="265.69" rx="2.42" ry="2.15" fill="#4e3489" transform="rotate(-30 284.50 265.30)"/>
<circle cx="280.50" cy="271.40" r="3.60" fill="#6f55ad"/>
<ellipse cx="280.93" cy="271.76" rx="2.23" ry="1.98" fill="#4e3489" transform="rotate(-30 280.50 271.40)"/>
<circle cx="260.30" cy="264.40" r="3.30" fill="#6f55ad"/>
<ellipse cx="260.70" cy="264.73" rx="2.05" ry="1.81" fill="#4e3489" transform="rotate(-30 260.30 264.40)"/>
<circle cx="277.00" cy="243.30" r="2.80" fill="#6f55ad"/>
<ellipse cx="277.34" cy="243.58" rx="1.74" ry="1.54" fill="#4e3489" transform="rotate(-30 277.00 243.30)"/>
<circle cx="291.00" cy="242.50" r="2.60" fill="#6f55ad"/>
<ellipse cx="291.31" cy="242.76" rx="1.61" ry="1.43" fill="#4e3489" transform="rotate(-30 291.00 242.50)"/>
<circle cx="260.00" cy="274.50" r="2.60" fill="#6f55ad"/>
<ellipse cx="260.31" cy="274.76" rx="1.61" ry="1.43" fill="#4e3489" transform="rotate(-30 260.00 274.50)"/>
<circle cx="275.00" cy="264.00" r="2.20" fill="#6f55ad"/>
<ellipse cx="275.26" cy="264.22" rx="1.36" ry="1.21" fill="#4e3489" transform="rotate(-30 275.00 264.00)"/>
</g>
<rect x="261.60" y="273.90" width="9.20" height="1.30" fill="#3a3a3a" />
<rect x="257.50" y="239.90" width="36.70" height="36.60" fill="none" stroke="#b8284e" stroke-width="1.2"/>
<text transform="translate(235.60,238.20)" font-size="6.3" fill="#6e7890" text-anchor="middle" font-weight="normal">Control</text>
<text transform="translate(275.80,238.20)" font-size="6.3" fill="#a6042c" text-anchor="middle" font-weight="normal">MYC</text>
<text transform="translate(331.30,195.00)" font-size="7.6" fill="#333" text-anchor="start" font-weight="normal">(ii)</text>
<text transform="translate(400.40,195.30)" font-size="8.6" fill="#222" text-anchor="middle" font-weight="normal">Co-culture + stroma</text>
<line x1="335.50" y1="200.20" x2="335.50" y2="282.00" stroke="#111" stroke-width="1.2" />
<line x1="332.70" y1="202.20" x2="335.50" y2="202.20" stroke="#111" stroke-width="1.0" />
<line x1="334.20" y1="213.28" x2="335.50" y2="213.28" stroke="#111" stroke-width="0.5" />
<line x1="334.20" y1="210.49" x2="335.50" y2="210.49" stroke="#111" stroke-width="0.5" />
<line x1="334.20" y1="208.51" x2="335.50" y2="208.51" stroke="#111" stroke-width="0.5" />
<line x1="334.20" y1="206.97" x2="335.50" y2="206.97" stroke="#111" stroke-width="0.5" />
<line x1="334.20" y1="205.72" x2="335.50" y2="205.72" stroke="#111" stroke-width="0.5" />
<line x1="334.20" y1="204.66" x2="335.50" y2="204.66" stroke="#111" stroke-width="0.5" />
<line x1="334.20" y1="203.74" x2="335.50" y2="203.74" stroke="#111" stroke-width="0.5" />
<line x1="334.20" y1="202.93" x2="335.50" y2="202.93" stroke="#111" stroke-width="0.5" />
<line x1="332.70" y1="218.05" x2="335.50" y2="218.05" stroke="#111" stroke-width="1.0" />
<line x1="334.20" y1="229.13" x2="335.50" y2="229.13" stroke="#111" stroke-width="0.5" />
<line x1="334.20" y1="226.34" x2="335.50" y2="226.34" stroke="#111" stroke-width="0.5" />
<line x1="334.20" y1="224.36" x2="335.50" y2="224.36" stroke="#111" stroke-width="0.5" />
<line x1="334.20" y1="222.82" x2="335.50" y2="222.82" stroke="#111" stroke-width="0.5" />
<line x1="334.20" y1="221.57" x2="335.50" y2="221.57" stroke="#111" stroke-width="0.5" />
<line x1="334.20" y1="220.51" x2="335.50" y2="220.51" stroke="#111" stroke-width="0.5" />
<line x1="334.20" y1="219.59" x2="335.50" y2="219.59" stroke="#111" stroke-width="0.5" />
<line x1="334.20" y1="218.78" x2="335.50" y2="218.78" stroke="#111" stroke-width="0.5" />
<line x1="332.70" y1="233.90" x2="335.50" y2="233.90" stroke="#111" stroke-width="1.0" />
<line x1="334.20" y1="244.98" x2="335.50" y2="244.98" stroke="#111" stroke-width="0.5" />
<line x1="334.20" y1="242.19" x2="335.50" y2="242.19" stroke="#111" stroke-width="0.5" />
<line x1="334.20" y1="240.21" x2="335.50" y2="240.21" stroke="#111" stroke-width="0.5" />
<line x1="334.20" y1="238.67" x2="335.50" y2="238.67" stroke="#111" stroke-width="0.5" />
<line x1="334.20" y1="237.42" x2="335.50" y2="237.42" stroke="#111" stroke-width="0.5" />
<line x1="334.20" y1="236.36" x2="335.50" y2="236.36" stroke="#111" stroke-width="0.5" />
<line x1="334.20" y1="235.44" x2="335.50" y2="235.44" stroke="#111" stroke-width="0.5" />
<line x1="334.20" y1="234.63" x2="335.50" y2="234.63" stroke="#111" stroke-width="0.5" />
<line x1="332.70" y1="249.75" x2="335.50" y2="249.75" stroke="#111" stroke-width="1.0" />
<line x1="334.20" y1="260.83" x2="335.50" y2="260.83" stroke="#111" stroke-width="0.5" />
<line x1="334.20" y1="258.04" x2="335.50" y2="258.04" stroke="#111" stroke-width="0.5" />
<line x1="334.20" y1="256.06" x2="335.50" y2="256.06" stroke="#111" stroke-width="0.5" />
<line x1="334.20" y1="254.52" x2="335.50" y2="254.52" stroke="#111" stroke-width="0.5" />
<line x1="334.20" y1="253.27" x2="335.50" y2="253.27" stroke="#111" stroke-width="0.5" />
<line x1="334.20" y1="252.21" x2="335.50" y2="252.21" stroke="#111" stroke-width="0.5" />
<line x1="334.20" y1="251.29" x2="335.50" y2="251.29" stroke="#111" stroke-width="0.5" />
<line x1="334.20" y1="250.48" x2="335.50" y2="250.48" stroke="#111" stroke-width="0.5" />
<line x1="332.70" y1="265.60" x2="335.50" y2="265.60" stroke="#111" stroke-width="1.0" />
<line x1="334.20" y1="276.68" x2="335.50" y2="276.68" stroke="#111" stroke-width="0.5" />
<line x1="334.20" y1="273.89" x2="335.50" y2="273.89" stroke="#111" stroke-width="0.5" />
<line x1="334.20" y1="271.91" x2="335.50" y2="271.91" stroke="#111" stroke-width="0.5" />
<line x1="334.20" y1="270.37" x2="335.50" y2="270.37" stroke="#111" stroke-width="0.5" />
<line x1="334.20" y1="269.12" x2="335.50" y2="269.12" stroke="#111" stroke-width="0.5" />
<line x1="334.20" y1="268.06" x2="335.50" y2="268.06" stroke="#111" stroke-width="0.5" />
<line x1="334.20" y1="267.14" x2="335.50" y2="267.14" stroke="#111" stroke-width="0.5" />
<line x1="334.20" y1="266.33" x2="335.50" y2="266.33" stroke="#111" stroke-width="0.5" />
<line x1="332.70" y1="281.45" x2="335.50" y2="281.45" stroke="#111" stroke-width="1.0" />
<line x1="334.50" y1="281.60" x2="465.00" y2="281.60" stroke="#111" stroke-width="1.1" />
<line x1="346.40" y1="281.60" x2="346.40" y2="283.60" stroke="#111" stroke-width="0.8" />
<line x1="356.90" y1="281.60" x2="356.90" y2="283.60" stroke="#111" stroke-width="0.8" />
<line x1="367.40" y1="281.60" x2="367.40" y2="283.60" stroke="#111" stroke-width="0.8" />
<line x1="377.90" y1="281.60" x2="377.90" y2="283.60" stroke="#111" stroke-width="0.8" />
<line x1="388.40" y1="281.60" x2="388.40" y2="283.60" stroke="#111" stroke-width="0.8" />
<line x1="398.90" y1="281.60" x2="398.90" y2="283.60" stroke="#111" stroke-width="0.8" />
<line x1="409.40" y1="281.60" x2="409.40" y2="283.60" stroke="#111" stroke-width="0.8" />
<line x1="419.90" y1="281.60" x2="419.90" y2="283.60" stroke="#111" stroke-width="0.8" />
<line x1="430.40" y1="281.60" x2="430.40" y2="283.60" stroke="#111" stroke-width="0.8" />
<line x1="440.90" y1="281.60" x2="440.90" y2="283.60" stroke="#111" stroke-width="0.8" />
<line x1="451.40" y1="281.60" x2="451.40" y2="283.60" stroke="#111" stroke-width="0.8" />
<line x1="461.90" y1="281.60" x2="461.90" y2="283.60" stroke="#111" stroke-width="0.8" />
<text transform="translate(356.90,292.80)" font-size="6.6" fill="#333" text-anchor="middle" font-weight="normal">2</text>
<text transform="translate(377.90,292.80)" font-size="6.6" fill="#333" text-anchor="middle" font-weight="normal">4</text>
<text transform="translate(398.90,292.80)" font-size="6.6" fill="#333" text-anchor="middle" font-weight="normal">6</text>
<text transform="translate(419.90,292.80)" font-size="6.6" fill="#333" text-anchor="middle" font-weight="normal">8</text>
<text transform="translate(440.90,292.80)" font-size="6.6" fill="#333" text-anchor="middle" font-weight="normal">10</text>
<text transform="translate(461.90,292.80)" font-size="6.6" fill="#333" text-anchor="middle" font-weight="normal">12</text>
<text transform="translate(400.00,304.20) scale(0.731,1)" font-size="9" fill="#333" text-anchor="middle" font-weight="normal">Weeks</text>
<polyline points="335.90,249.60 346.40,239.80 356.90,227.70 367.40,223.10 388.40,239.80 398.90,240.60 419.90,259.40 440.90,256.20 461.90,269.70" fill="none" stroke="#4b5567" stroke-width="1.0" stroke-linejoin="round"/>
<circle cx="346.40" cy="239.80" r="1.25" fill="#4b5567"/>
<circle cx="356.90" cy="227.70" r="1.25" fill="#4b5567"/>
<circle cx="367.40" cy="223.10" r="1.25" fill="#4b5567"/>
<circle cx="388.40" cy="239.80" r="1.25" fill="#4b5567"/>
<circle cx="398.90" cy="240.60" r="1.25" fill="#4b5567"/>
<circle cx="419.90" cy="259.40" r="1.25" fill="#4b5567"/>
<circle cx="440.90" cy="256.20" r="1.25" fill="#4b5567"/>
<circle cx="461.90" cy="269.70" r="1.25" fill="#4b5567"/>
<polyline points="335.90,249.60 346.40,233.80 356.90,222.50 367.40,212.80 388.40,213.70 398.90,217.70 419.90,218.50 440.90,220.90 461.90,248.70" fill="none" stroke="#a6042c" stroke-width="1.2" stroke-linejoin="round"/>
<circle cx="346.40" cy="233.80" r="1.25" fill="#a6042c"/>
<circle cx="356.90" cy="222.50" r="1.25" fill="#a6042c"/>
<circle cx="367.40" cy="212.80" r="1.25" fill="#a6042c"/>
<circle cx="388.40" cy="213.70" r="1.25" fill="#a6042c"/>
<circle cx="398.90" cy="217.70" r="1.25" fill="#a6042c"/>
<circle cx="419.90" cy="218.50" r="1.25" fill="#a6042c"/>
<circle cx="440.90" cy="220.90" r="1.25" fill="#a6042c"/>
<circle cx="461.90" cy="248.70" r="1.25" fill="#a6042c"/>
<line x1="461.90" y1="243.30" x2="461.90" y2="254.00" stroke="#a6042c" stroke-width="0.7" />
<line x1="460.80" y1="243.30" x2="463.00" y2="243.30" stroke="#a6042c" stroke-width="0.7" />
<line x1="460.80" y1="254.00" x2="463.00" y2="254.00" stroke="#a6042c" stroke-width="0.7" />
<line x1="461.90" y1="266.70" x2="461.90" y2="273.70" stroke="#4b5567" stroke-width="0.7" />
<line x1="460.80" y1="266.70" x2="463.00" y2="266.70" stroke="#4b5567" stroke-width="0.7" />
<line x1="460.80" y1="273.70" x2="463.00" y2="273.70" stroke="#4b5567" stroke-width="0.7" />
<line x1="440.90" y1="252.70" x2="440.90" y2="260.20" stroke="#4b5567" stroke-width="0.7" />
<line x1="439.80" y1="252.70" x2="442.00" y2="252.70" stroke="#4b5567" stroke-width="0.7" />
<line x1="439.80" y1="260.20" x2="442.00" y2="260.20" stroke="#4b5567" stroke-width="0.7" />
<line x1="388.40" y1="237.50" x2="388.40" y2="242.00" stroke="#4b5567" stroke-width="0.7" />
<line x1="387.30" y1="237.50" x2="389.50" y2="237.50" stroke="#4b5567" stroke-width="0.7" />
<line x1="387.30" y1="242.00" x2="389.50" y2="242.00" stroke="#4b5567" stroke-width="0.7" />
<line x1="398.90" y1="238.00" x2="398.90" y2="243.00" stroke="#4b5567" stroke-width="0.7" />
<line x1="397.80" y1="238.00" x2="400.00" y2="238.00" stroke="#4b5567" stroke-width="0.7" />
<line x1="397.80" y1="243.00" x2="400.00" y2="243.00" stroke="#4b5567" stroke-width="0.7" />
<text transform="translate(367.40,209.20)" font-size="6" fill="#222" text-anchor="middle" font-weight="normal">**</text>
<text transform="translate(388.40,209.20)" font-size="6" fill="#222" text-anchor="middle" font-weight="normal">****</text>
<text transform="translate(398.90,214.20)" font-size="6" fill="#222" text-anchor="middle" font-weight="normal">****</text>
<text transform="translate(419.90,215.60)" font-size="6" fill="#222" text-anchor="middle" font-weight="normal">****</text>
<text transform="translate(440.90,217.60)" font-size="6" fill="#222" text-anchor="middle" font-weight="normal">****</text>
<text transform="translate(461.90,240.00)" font-size="6" fill="#222" text-anchor="middle" font-weight="normal">****</text>
<line x1="36.20" y1="357.00" x2="36.20" y2="434.20" stroke="#111" stroke-width="1.2" />
<line x1="33.50" y1="433.80" x2="146.50" y2="433.80" stroke="#111" stroke-width="1.2" />
<line x1="33.20" y1="418.66" x2="36.20" y2="418.66" stroke="#111" stroke-width="1.0" />
<text transform="translate(30.80,421.06)" font-size="6.6" fill="#333" text-anchor="end" font-weight="normal">20</text>
<line x1="33.20" y1="403.92" x2="36.20" y2="403.92" stroke="#111" stroke-width="1.0" />
<text transform="translate(30.80,406.32)" font-size="6.6" fill="#333" text-anchor="end" font-weight="normal">40</text>
<line x1="33.20" y1="389.18" x2="36.20" y2="389.18" stroke="#111" stroke-width="1.0" />
<text transform="translate(30.80,391.58)" font-size="6.6" fill="#333" text-anchor="end" font-weight="normal">60</text>
<line x1="33.20" y1="374.44" x2="36.20" y2="374.44" stroke="#111" stroke-width="1.0" />
<text transform="translate(30.80,376.84)" font-size="6.6" fill="#333" text-anchor="end" font-weight="normal">80</text>
<line x1="33.20" y1="359.70" x2="36.20" y2="359.70" stroke="#111" stroke-width="1.0" />
<text transform="translate(30.80,362.10)" font-size="6.6" fill="#333" text-anchor="end" font-weight="normal">100</text>
<line x1="34.80" y1="426.03" x2="36.20" y2="426.03" stroke="#111" stroke-width="0.7" />
<line x1="34.80" y1="411.29" x2="36.20" y2="411.29" stroke="#111" stroke-width="0.7" />
<line x1="34.80" y1="396.55" x2="36.20" y2="396.55" stroke="#111" stroke-width="0.7" />
<line x1="34.80" y1="381.81" x2="36.20" y2="381.81" stroke="#111" stroke-width="0.7" />
<line x1="34.80" y1="367.07" x2="36.20" y2="367.07" stroke="#111" stroke-width="0.7" />
<line x1="44.40" y1="433.80" x2="44.40" y2="435.20" stroke="#111" stroke-width="0.8" />
<line x1="51.50" y1="433.80" x2="51.50" y2="435.20" stroke="#111" stroke-width="0.8" />
<line x1="58.60" y1="433.80" x2="58.60" y2="435.20" stroke="#111" stroke-width="0.8" />
<line x1="65.70" y1="433.80" x2="65.70" y2="435.20" stroke="#111" stroke-width="0.8" />
<line x1="72.80" y1="433.80" x2="72.80" y2="436.00" stroke="#111" stroke-width="0.8" />
<line x1="79.90" y1="433.80" x2="79.90" y2="435.20" stroke="#111" stroke-width="0.8" />
<line x1="87.00" y1="433.80" x2="87.00" y2="435.20" stroke="#111" stroke-width="0.8" />
<line x1="94.10" y1="433.80" x2="94.10" y2="435.20" stroke="#111" stroke-width="0.8" />
<line x1="101.20" y1="433.80" x2="101.20" y2="435.20" stroke="#111" stroke-width="0.8" />
<line x1="108.30" y1="433.80" x2="108.30" y2="436.00" stroke="#111" stroke-width="0.8" />
<line x1="115.40" y1="433.80" x2="115.40" y2="435.20" stroke="#111" stroke-width="0.8" />
<line x1="122.50" y1="433.80" x2="122.50" y2="435.20" stroke="#111" stroke-width="0.8" />
<line x1="129.60" y1="433.80" x2="129.60" y2="435.20" stroke="#111" stroke-width="0.8" />
<line x1="136.70" y1="433.80" x2="136.70" y2="435.20" stroke="#111" stroke-width="0.8" />
<line x1="143.80" y1="433.80" x2="143.80" y2="436.00" stroke="#111" stroke-width="0.8" />
<text transform="translate(72.80,445.00)" font-size="6.8" fill="#333" text-anchor="middle" font-weight="normal">5</text>
<text transform="translate(108.30,445.00)" font-size="6.8" fill="#333" text-anchor="middle" font-weight="normal">10</text>
<text transform="translate(143.80,445.00)" font-size="6.8" fill="#333" text-anchor="middle" font-weight="normal">15</text>
<text transform="translate(92.20,456.80) scale(0.744,1)" font-size="9" fill="#333" text-anchor="middle" font-weight="normal">Weeks post-transplant</text>
<text transform="translate(15.00,394.40) rotate(-90) scale(0.719,1)" font-size="9.4" fill="#2a2a2a" stroke="#2a2a2a" stroke-width="0.18" text-anchor="middle">% survival</text>
<polyline points="36.2,359.70 55.8,359.70 55.8,363.5 144.4,363.5" fill="none" stroke="#6e7890" stroke-width="1.3"/>
<line x1="61.50" y1="361.80" x2="61.50" y2="363.50" stroke="#6e7890" stroke-width="0.6" />
<line x1="64.50" y1="361.80" x2="64.50" y2="363.50" stroke="#6e7890" stroke-width="0.6" />
<line x1="68.50" y1="361.80" x2="68.50" y2="363.50" stroke="#6e7890" stroke-width="0.6" />
<text transform="translate(140.20,360.60) scale(0.994,1)" font-size="5.5" fill="#6e7890" text-anchor="end" font-weight="normal">Control (n=16)</text>
<polyline points="36.20,359.70 56.00,359.70 56.00,372.20 57.20,372.20 57.20,373.90 58.20,373.90 58.20,380.80 59.00,380.80 59.00,387.60 60.30,387.60 60.30,389.50 61.20,389.50 61.20,393.00 61.80,393.00 61.80,397.90 62.90,397.90 62.90,400.50 63.50,400.50 63.50,403.00 66.30,403.00 66.30,406.50 67.20,406.50 67.20,415.10 69.20,415.10 69.20,417.70 70.60,417.70 70.60,420.20 73.20,420.20 73.20,422.80 75.80,422.80 75.80,425.40 80.60,425.40 80.60,429.60 144.20,429.60" fill="none" stroke="#a6042c" stroke-width="1.3"/>
<text transform="translate(141.00,427.80) scale(0.959,1)" font-size="5.6" fill="#a6042c" text-anchor="end" font-weight="normal">MYC (n=22)</text>
<clipPath id="cp21"><rect x="72.7" y="377.2" width="35.1" height="35.4"/></clipPath>
<rect x="72.70" y="377.20" width="35.10" height="35.40" fill="#d9d5e6" />
<g clip-path="url(#cp21)">
<circle cx="92.00" cy="392.00" r="7.00" fill="#c4b8dc"/>
<circle cx="78.00" cy="386.00" r="3.00" fill="#f4f3f8"/>
<circle cx="100.00" cy="379.00" r="2.50" fill="#f4f3f8"/>
<circle cx="103.00" cy="410.00" r="3.00" fill="#f4f3f8"/>
<circle cx="84.70" cy="380.80" r="2.40" fill="#6f55ad"/>
<ellipse cx="84.99" cy="381.04" rx="1.49" ry="1.32" fill="#4e3489" transform="rotate(-30 84.70 380.80)"/>
<circle cx="90.50" cy="380.10" r="2.30" fill="#6f55ad"/>
<ellipse cx="90.78" cy="380.33" rx="1.43" ry="1.26" fill="#4e3489" transform="rotate(-30 90.50 380.10)"/>
<circle cx="97.00" cy="384.40" r="2.40" fill="#6f55ad"/>
<ellipse cx="97.29" cy="384.64" rx="1.49" ry="1.32" fill="#4e3489" transform="rotate(-30 97.00 384.40)"/>
<circle cx="89.80" cy="385.90" r="2.60" fill="#6f55ad"/>
<ellipse cx="90.11" cy="386.16" rx="1.61" ry="1.43" fill="#4e3489" transform="rotate(-30 89.80 385.90)"/>
<circle cx="98.40" cy="388.80" r="2.40" fill="#6f55ad"/>
<ellipse cx="98.69" cy="389.04" rx="1.49" ry="1.32" fill="#4e3489" transform="rotate(-30 98.40 388.80)"/>
<circle cx="94.10" cy="391.60" r="4.40" fill="#8a74bb"/>
<ellipse cx="94.63" cy="392.04" rx="2.73" ry="2.42" fill="#6d55a5" transform="rotate(-30 94.10 391.60)"/>
<circle cx="87.60" cy="392.40" r="2.40" fill="#6f55ad"/>
<ellipse cx="87.89" cy="392.64" rx="1.49" ry="1.32" fill="#4e3489" transform="rotate(-30 87.60 392.40)"/>
<circle cx="91.20" cy="396.70" r="2.50" fill="#6f55ad"/>
<ellipse cx="91.50" cy="396.95" rx="1.55" ry="1.38" fill="#4e3489" transform="rotate(-30 91.20 396.70)"/>
<circle cx="97.70" cy="396.70" r="2.60" fill="#6f55ad"/>
<ellipse cx="98.01" cy="396.96" rx="1.61" ry="1.43" fill="#4e3489" transform="rotate(-30 97.70 396.70)"/>
<circle cx="80.40" cy="398.90" r="2.30" fill="#6f55ad"/>
<ellipse cx="80.68" cy="399.13" rx="1.43" ry="1.26" fill="#4e3489" transform="rotate(-30 80.40 398.90)"/>
<circle cx="85.40" cy="399.60" r="2.60" fill="#6f55ad"/>
<ellipse cx="85.71" cy="399.86" rx="1.61" ry="1.43" fill="#4e3489" transform="rotate(-30 85.40 399.60)"/>
<circle cx="101.30" cy="403.90" r="2.80" fill="#6f55ad"/>
<ellipse cx="101.64" cy="404.18" rx="1.74" ry="1.54" fill="#4e3489" transform="rotate(-30 101.30 403.90)"/>
<circle cx="91.20" cy="405.40" r="2.60" fill="#6f55ad"/>
<ellipse cx="91.51" cy="405.66" rx="1.61" ry="1.43" fill="#4e3489" transform="rotate(-30 91.20 405.40)"/>
<circle cx="85.40" cy="408.20" r="2.10" fill="#6f55ad"/>
<ellipse cx="85.65" cy="408.41" rx="1.30" ry="1.16" fill="#4e3489" transform="rotate(-30 85.40 408.20)"/>
<circle cx="77.50" cy="405.00" r="1.90" fill="#6f55ad"/>
<ellipse cx="77.73" cy="405.19" rx="1.18" ry="1.04" fill="#4e3489" transform="rotate(-30 77.50 405.00)"/>
<circle cx="104.00" cy="395.00" r="2.10" fill="#6f55ad"/>
<ellipse cx="104.25" cy="395.21" rx="1.30" ry="1.16" fill="#4e3489" transform="rotate(-30 104.00 395.00)"/>
</g>
<rect x="75.30" y="408.20" width="8.00" height="1.30" fill="#3a3a3a" />
<rect x="73.30" y="377.80" width="33.90" height="34.20" fill="none" stroke="#8890a2" stroke-width="1.2"/>
<clipPath id="cp22"><rect x="109.2" y="377.2" width="35.7" height="35.4"/></clipPath>
<rect x="109.20" y="377.20" width="35.70" height="35.40" fill="#c9c1dc" />
<g clip-path="url(#cp22)">
<circle cx="113.00" cy="382.00" r="2.60" fill="#f4f3f8"/>
<circle cx="131.00" cy="405.50" r="3.00" fill="#f4f3f8"/>
<circle cx="140.50" cy="403.00" r="2.50" fill="#f4f3f8"/>
<circle cx="133.00" cy="380.00" r="2.20" fill="#f4f3f8"/>
<circle cx="117.20" cy="390.20" r="4.00" fill="#6f55ad"/>
<ellipse cx="117.68" cy="390.60" rx="2.48" ry="2.20" fill="#4e3489" transform="rotate(-30 117.20 390.20)"/>
<circle cx="124.40" cy="391.60" r="4.20" fill="#6f55ad"/>
<ellipse cx="124.90" cy="392.02" rx="2.60" ry="2.31" fill="#4e3489" transform="rotate(-30 124.40 391.60)"/>
<circle cx="118.60" cy="400.30" r="4.20" fill="#6f55ad"/>
<ellipse cx="119.10" cy="400.72" rx="2.60" ry="2.31" fill="#4e3489" transform="rotate(-30 118.60 400.30)"/>
<circle cx="133.00" cy="396.00" r="3.60" fill="#6f55ad"/>
<ellipse cx="133.43" cy="396.36" rx="2.23" ry="1.98" fill="#4e3489" transform="rotate(-30 133.00 396.00)"/>
<circle cx="138.80" cy="385.90" r="4.00" fill="#6f55ad"/>
<ellipse cx="139.28" cy="386.30" rx="2.48" ry="2.20" fill="#4e3489" transform="rotate(-30 138.80 385.90)"/>
<circle cx="127.30" cy="384.40" r="3.20" fill="#6f55ad"/>
<ellipse cx="127.68" cy="384.72" rx="1.98" ry="1.76" fill="#4e3489" transform="rotate(-30 127.30 384.40)"/>
<circle cx="125.00" cy="401.00" r="3.00" fill="#6f55ad"/>
<ellipse cx="125.36" cy="401.30" rx="1.86" ry="1.65" fill="#4e3489" transform="rotate(-30 125.00 401.00)"/>
</g>
<rect x="113.60" y="408.20" width="8.60" height="1.30" fill="#3a3a3a" />
<rect x="109.80" y="377.80" width="34.50" height="34.20" fill="none" stroke="#b8284e" stroke-width="1.2"/>
<text transform="translate(90.00,375.60)" font-size="6.0" fill="#6e7890" text-anchor="middle" font-weight="normal">Control</text>
<text transform="translate(126.90,375.60)" font-size="6.0" fill="#a6042c" text-anchor="middle" font-weight="normal">MYC</text>
<line x1="192.40" y1="358.00" x2="192.40" y2="433.60" stroke="#111" stroke-width="1.2" />
<line x1="189.60" y1="433.10" x2="290.60" y2="433.10" stroke="#111" stroke-width="1.2" />
<line x1="189.60" y1="418.68" x2="192.40" y2="418.68" stroke="#111" stroke-width="1.0" />
<text transform="translate(186.50,421.08)" font-size="6.6" fill="#333" text-anchor="end" font-weight="normal">20</text>
<line x1="189.60" y1="404.36" x2="192.40" y2="404.36" stroke="#111" stroke-width="1.0" />
<text transform="translate(186.50,406.76)" font-size="6.6" fill="#333" text-anchor="end" font-weight="normal">40</text>
<line x1="189.60" y1="390.04" x2="192.40" y2="390.04" stroke="#111" stroke-width="1.0" />
<text transform="translate(186.50,392.44)" font-size="6.6" fill="#333" text-anchor="end" font-weight="normal">60</text>
<line x1="189.60" y1="375.72" x2="192.40" y2="375.72" stroke="#111" stroke-width="1.0" />
<text transform="translate(186.50,378.12)" font-size="6.6" fill="#333" text-anchor="end" font-weight="normal">80</text>
<line x1="189.60" y1="361.40" x2="192.40" y2="361.40" stroke="#111" stroke-width="1.0" />
<text transform="translate(186.50,363.80)" font-size="6.6" fill="#333" text-anchor="end" font-weight="normal">100</text>
<line x1="190.80" y1="425.84" x2="192.40" y2="425.84" stroke="#111" stroke-width="0.7" />
<line x1="190.80" y1="411.52" x2="192.40" y2="411.52" stroke="#111" stroke-width="0.7" />
<line x1="190.80" y1="397.20" x2="192.40" y2="397.20" stroke="#111" stroke-width="0.7" />
<line x1="190.80" y1="382.88" x2="192.40" y2="382.88" stroke="#111" stroke-width="0.7" />
<line x1="190.80" y1="368.56" x2="192.40" y2="368.56" stroke="#111" stroke-width="0.7" />
<rect x="198.90" y="361.40" width="5.50" height="3.58" fill="#c5c4ca" />
<rect x="198.90" y="364.98" width="5.50" height="46.11" fill="#887dbb" />
<rect x="198.90" y="411.09" width="5.50" height="21.91" fill="#4b5567" />
<rect x="208.10" y="361.40" width="5.50" height="9.52" fill="#c5c4ca" />
<rect x="208.10" y="370.92" width="5.50" height="45.11" fill="#887dbb" />
<rect x="208.10" y="416.03" width="5.50" height="16.97" fill="#4b5567" />
<rect x="217.00" y="361.40" width="5.50" height="12.17" fill="#c5c4ca" />
<rect x="217.00" y="373.57" width="5.50" height="19.55" fill="#887dbb" />
<rect x="217.00" y="393.12" width="5.50" height="39.88" fill="#4b5567" />
<rect x="225.90" y="361.40" width="5.50" height="15.04" fill="#c5c4ca" />
<rect x="225.90" y="376.44" width="5.50" height="19.33" fill="#887dbb" />
<rect x="225.90" y="395.77" width="5.50" height="37.23" fill="#4b5567" />
<rect x="238.60" y="361.40" width="5.50" height="0.72" fill="#c5c4ca" />
<rect x="238.60" y="362.12" width="5.50" height="7.88" fill="#887dbb" />
<rect x="238.60" y="369.99" width="5.50" height="63.01" fill="#a6042c" />
<rect x="247.50" y="361.40" width="5.50" height="6.44" fill="#c5c4ca" />
<rect x="247.50" y="367.84" width="5.50" height="13.60" fill="#887dbb" />
<rect x="247.50" y="381.45" width="5.50" height="51.55" fill="#a6042c" />
<rect x="256.50" y="361.40" width="5.50" height="2.15" fill="#c5c4ca" />
<rect x="256.50" y="363.55" width="5.50" height="24.63" fill="#887dbb" />
<rect x="256.50" y="388.18" width="5.50" height="44.82" fill="#a6042c" />
<rect x="265.40" y="361.40" width="5.50" height="2.51" fill="#c5c4ca" />
<rect x="265.40" y="363.91" width="5.50" height="15.68" fill="#887dbb" />
<rect x="265.40" y="379.59" width="5.50" height="53.41" fill="#a6042c" />
<rect x="274.30" y="361.40" width="5.50" height="2.15" fill="#c5c4ca" />
<rect x="274.30" y="363.55" width="5.50" height="18.26" fill="#887dbb" />
<rect x="274.30" y="381.81" width="5.50" height="51.19" fill="#a6042c" />
<rect x="283.40" y="361.40" width="5.50" height="2.15" fill="#c5c4ca" />
<rect x="283.40" y="363.55" width="5.50" height="10.02" fill="#887dbb" />
<rect x="283.40" y="373.57" width="5.50" height="59.43" fill="#a6042c" />
<text transform="translate(215.20,442.20)" font-size="6.8" fill="#6e7890" text-anchor="middle" font-weight="normal">Control</text>
<text transform="translate(263.10,442.20)" font-size="6.8" fill="#a6042c" text-anchor="middle" font-weight="normal">MYC</text>
<text transform="translate(170.30,394.90) rotate(-90) scale(0.685,1)" font-size="9.4" fill="#2a2a2a" stroke="#2a2a2a" stroke-width="0.18" text-anchor="middle">% of total BM cells</text>
<rect x="190.50" y="336.20" width="2.50" height="2.50" fill="#c5c4ca" />
<text transform="translate(196.10,339.30)" font-size="5.35" fill="#333" text-anchor="start" font-weight="normal">Mouse</text>
<rect x="236.30" y="336.20" width="2.50" height="2.50" fill="#4b5567" />
<text transform="translate(241.90,339.30)" font-size="5.35" fill="#333" text-anchor="start" font-weight="normal">Human GFP+ control</text>
<rect x="190.50" y="345.00" width="2.50" height="2.50" fill="#887dbb" />
<text transform="translate(196.10,348.10)" font-size="5.35" fill="#333" text-anchor="start" font-weight="normal">Human GFP-</text>
<rect x="236.30" y="345.00" width="2.50" height="2.50" fill="#a6042c" />
<text transform="translate(241.90,348.10)" font-size="5.35" fill="#333" text-anchor="start" font-weight="normal">Human GFP+ MYC</text>
<rect x="335.7" y="357.9" width="49.6" height="75.1" fill="none" stroke="#111" stroke-width="1.1"/>
<line x1="360.30" y1="357.90" x2="360.30" y2="433.00" stroke="#111" stroke-width="1.1" />
<line x1="333.00" y1="357.90" x2="335.70" y2="357.90" stroke="#111" stroke-width="1.0" />
<text transform="translate(331.50,360.20) scale(1.0,1)" font-size="6.3" fill="#333" text-anchor="end">10<tspan font-size="4.28" dy="-3.15">2</tspan></text>
<line x1="333.00" y1="433.00" x2="335.70" y2="433.00" stroke="#111" stroke-width="1.0" />
<text transform="translate(331.50,435.30) scale(1.0,1)" font-size="6.3" fill="#333" text-anchor="end">10<tspan font-size="4.28" dy="-3.15">1</tspan></text>
<line x1="334.20" y1="410.39" x2="335.70" y2="410.39" stroke="#111" stroke-width="0.5" />
<line x1="334.20" y1="397.17" x2="335.70" y2="397.17" stroke="#111" stroke-width="0.5" />
<line x1="334.20" y1="387.79" x2="335.70" y2="387.79" stroke="#111" stroke-width="0.5" />
<line x1="334.20" y1="380.51" x2="335.70" y2="380.51" stroke="#111" stroke-width="0.5" />
<line x1="334.20" y1="374.56" x2="335.70" y2="374.56" stroke="#111" stroke-width="0.5" />
<line x1="334.20" y1="369.53" x2="335.70" y2="369.53" stroke="#111" stroke-width="0.5" />
<line x1="334.20" y1="365.18" x2="335.70" y2="365.18" stroke="#111" stroke-width="0.5" />
<line x1="334.20" y1="361.34" x2="335.70" y2="361.34" stroke="#111" stroke-width="0.5" />
<text transform="translate(348.50,350.70)" font-size="5.3" fill="#222" text-anchor="middle" font-weight="normal">CD33+</text>
<text transform="translate(374.00,350.70)" font-size="5.3" fill="#222" text-anchor="middle" font-weight="normal">CD123+</text>
<text transform="translate(315.50,394.00) rotate(-90) scale(0.718,1)" font-size="9.4" fill="#2a2a2a" stroke="#2a2a2a" stroke-width="0.18" text-anchor="middle">% of human cells in BM</text>
<circle cx="342.10" cy="386.80" r="1.15" fill="#2f3f66"/>
<circle cx="342.10" cy="393.30" r="1.15" fill="#2f3f66"/>
<circle cx="342.10" cy="408.30" r="1.15" fill="#2f3f66"/>
<circle cx="342.10" cy="421.40" r="1.15" fill="#2f3f66"/>
<line x1="338.30" y1="402.10" x2="346.10" y2="402.10" stroke="#2f3f66" stroke-width="0.9" />
<circle cx="353.00" cy="368.60" r="1.15" fill="#a6042c"/>
<circle cx="356.50" cy="370.50" r="1.15" fill="#a6042c"/>
<circle cx="351.50" cy="372.60" r="1.15" fill="#a6042c"/>
<circle cx="355.50" cy="375.00" r="1.15" fill="#a6042c"/>
<circle cx="352.50" cy="377.60" r="1.15" fill="#a6042c"/>
<circle cx="357.00" cy="373.00" r="1.15" fill="#a6042c"/>
<line x1="350.40" y1="372.60" x2="358.40" y2="372.60" stroke="#a6042c" stroke-width="0.9" />
<text transform="translate(347.70,365.60)" font-size="6" fill="#222" text-anchor="middle" font-weight="normal">**</text>
<circle cx="365.10" cy="384.20" r="1.15" fill="#2f3f66"/>
<circle cx="367.80" cy="383.40" r="1.15" fill="#2f3f66"/>
<circle cx="366.20" cy="404.80" r="1.15" fill="#2f3f66"/>
<circle cx="366.20" cy="418.20" r="1.15" fill="#2f3f66"/>
<line x1="362.50" y1="397.60" x2="370.20" y2="397.60" stroke="#2f3f66" stroke-width="0.9" />
<circle cx="378.60" cy="364.60" r="1.15" fill="#a6042c"/>
<circle cx="376.00" cy="370.00" r="1.15" fill="#a6042c"/>
<circle cx="380.40" cy="374.50" r="1.15" fill="#a6042c"/>
<circle cx="377.80" cy="378.00" r="1.15" fill="#a6042c"/>
<circle cx="379.00" cy="382.00" r="1.15" fill="#a6042c"/>
<line x1="374.50" y1="373.20" x2="382.30" y2="373.20" stroke="#a6042c" stroke-width="0.9" />
<text transform="translate(372.50,365.60)" font-size="6" fill="#222" text-anchor="middle" font-weight="normal">*</text>
<rect x="411.3" y="358.8" width="101.7" height="74.2" fill="none" stroke="#111" stroke-width="1.1"/>
<line x1="436.30" y1="358.80" x2="436.30" y2="433.00" stroke="#111" stroke-width="1.1" />
<line x1="461.80" y1="358.80" x2="461.80" y2="433.00" stroke="#111" stroke-width="1.1" />
<line x1="487.50" y1="358.80" x2="487.50" y2="433.00" stroke="#111" stroke-width="1.1" />
<line x1="408.60" y1="358.80" x2="411.30" y2="358.80" stroke="#111" stroke-width="1.0" />
<text transform="translate(406.80,361.10) scale(1.0,1)" font-size="6.3" fill="#333" text-anchor="end">10<tspan font-size="4.28" dy="-3.15">2</tspan></text>
<line x1="410.00" y1="371.77" x2="411.30" y2="371.77" stroke="#111" stroke-width="0.5" />
<line x1="410.00" y1="368.50" x2="411.30" y2="368.50" stroke="#111" stroke-width="0.5" />
<line x1="410.00" y1="366.18" x2="411.30" y2="366.18" stroke="#111" stroke-width="0.5" />
<line x1="410.00" y1="364.38" x2="411.30" y2="364.38" stroke="#111" stroke-width="0.5" />
<line x1="410.00" y1="362.92" x2="411.30" y2="362.92" stroke="#111" stroke-width="0.5" />
<line x1="410.00" y1="361.67" x2="411.30" y2="361.67" stroke="#111" stroke-width="0.5" />
<line x1="410.00" y1="360.60" x2="411.30" y2="360.60" stroke="#111" stroke-width="0.5" />
<line x1="410.00" y1="359.65" x2="411.30" y2="359.65" stroke="#111" stroke-width="0.5" />
<line x1="408.60" y1="377.35" x2="411.30" y2="377.35" stroke="#111" stroke-width="1.0" />
<text transform="translate(406.80,379.65) scale(1.0,1)" font-size="6.3" fill="#333" text-anchor="end">10<tspan font-size="4.28" dy="-3.15">1</tspan></text>
<line x1="410.00" y1="390.32" x2="411.30" y2="390.32" stroke="#111" stroke-width="0.5" />
<line x1="410.00" y1="387.05" x2="411.30" y2="387.05" stroke="#111" stroke-width="0.5" />
<line x1="410.00" y1="384.73" x2="411.30" y2="384.73" stroke="#111" stroke-width="0.5" />
<line x1="410.00" y1="382.93" x2="411.30" y2="382.93" stroke="#111" stroke-width="0.5" />
<line x1="410.00" y1="381.47" x2="411.30" y2="381.47" stroke="#111" stroke-width="0.5" />
<line x1="410.00" y1="380.22" x2="411.30" y2="380.22" stroke="#111" stroke-width="0.5" />
<line x1="410.00" y1="379.15" x2="411.30" y2="379.15" stroke="#111" stroke-width="0.5" />
<line x1="410.00" y1="378.20" x2="411.30" y2="378.20" stroke="#111" stroke-width="0.5" />
<line x1="408.60" y1="395.90" x2="411.30" y2="395.90" stroke="#111" stroke-width="1.0" />
<text transform="translate(406.80,398.20) scale(1.0,1)" font-size="6.3" fill="#333" text-anchor="end">10<tspan font-size="4.28" dy="-3.15">0</tspan></text>
<line x1="410.00" y1="408.87" x2="411.30" y2="408.87" stroke="#111" stroke-width="0.5" />
<line x1="410.00" y1="405.60" x2="411.30" y2="405.60" stroke="#111" stroke-width="0.5" />
<line x1="410.00" y1="403.28" x2="411.30" y2="403.28" stroke="#111" stroke-width="0.5" />
<line x1="410.00" y1="401.48" x2="411.30" y2="401.48" stroke="#111" stroke-width="0.5" />
<line x1="410.00" y1="400.02" x2="411.30" y2="400.02" stroke="#111" stroke-width="0.5" />
<line x1="410.00" y1="398.77" x2="411.30" y2="398.77" stroke="#111" stroke-width="0.5" />
<line x1="410.00" y1="397.70" x2="411.30" y2="397.70" stroke="#111" stroke-width="0.5" />
<line x1="410.00" y1="396.75" x2="411.30" y2="396.75" stroke="#111" stroke-width="0.5" />
<line x1="408.60" y1="414.45" x2="411.30" y2="414.45" stroke="#111" stroke-width="1.0" />
<text transform="translate(406.80,416.75) scale(1.0,1)" font-size="6.3" fill="#333" text-anchor="end">10<tspan font-size="4.28" dy="-3.15">-1</tspan></text>
<line x1="410.00" y1="427.42" x2="411.30" y2="427.42" stroke="#111" stroke-width="0.5" />
<line x1="410.00" y1="424.15" x2="411.30" y2="424.15" stroke="#111" stroke-width="0.5" />
<line x1="410.00" y1="421.83" x2="411.30" y2="421.83" stroke="#111" stroke-width="0.5" />
<line x1="410.00" y1="420.03" x2="411.30" y2="420.03" stroke="#111" stroke-width="0.5" />
<line x1="410.00" y1="418.57" x2="411.30" y2="418.57" stroke="#111" stroke-width="0.5" />
<line x1="410.00" y1="417.32" x2="411.30" y2="417.32" stroke="#111" stroke-width="0.5" />
<line x1="410.00" y1="416.25" x2="411.30" y2="416.25" stroke="#111" stroke-width="0.5" />
<line x1="410.00" y1="415.30" x2="411.30" y2="415.30" stroke="#111" stroke-width="0.5" />
<line x1="408.60" y1="433.00" x2="411.30" y2="433.00" stroke="#111" stroke-width="1.0" />
<text transform="translate(406.80,435.30) scale(1.0,1)" font-size="6.3" fill="#333" text-anchor="end">10<tspan font-size="4.28" dy="-3.15">-2</tspan></text>
<text transform="translate(425.60,350.70)" font-size="5.3" fill="#222" text-anchor="middle" font-weight="normal">CD14+</text>
<text transform="translate(450.70,350.70)" font-size="5.3" fill="#222" text-anchor="middle" font-weight="normal">CD15+</text>
<text transform="translate(476.10,350.70)" font-size="5.3" fill="#222" text-anchor="middle" font-weight="normal">CD19+</text>
<text transform="translate(501.70,350.70)" font-size="5.3" fill="#222" text-anchor="middle" font-weight="normal">CD34+</text>
<text transform="translate(423.80,365.60)" font-size="6" fill="#222" text-anchor="middle" font-weight="normal">*</text>
<text transform="translate(449.30,365.60)" font-size="6" fill="#222" text-anchor="middle" font-weight="normal">*</text>
<text transform="translate(474.50,365.60)" font-size="6" fill="#222" text-anchor="middle" font-weight="normal">***</text>
<text transform="translate(499.50,365.60)" font-size="6" fill="#222" text-anchor="middle" font-weight="normal">***</text>
<circle cx="417.50" cy="378.00" r="1.15" fill="#2f3f66"/>
<circle cx="415.00" cy="379.50" r="1.15" fill="#2f3f66"/>
<circle cx="416.25" cy="381.25" r="1.15" fill="#2f3f66"/>
<circle cx="418.00" cy="385.50" r="1.15" fill="#2f3f66"/>
<line x1="413.75" y1="381.25" x2="421.25" y2="381.25" stroke="#2f3f66" stroke-width="0.9" />
<circle cx="430.00" cy="381.25" r="1.15" fill="#a6042c"/>
<circle cx="428.75" cy="383.75" r="1.15" fill="#a6042c"/>
<circle cx="433.00" cy="384.50" r="1.15" fill="#a6042c"/>
<circle cx="427.50" cy="387.00" r="1.15" fill="#a6042c"/>
<circle cx="431.25" cy="389.25" r="1.15" fill="#a6042c"/>
<circle cx="428.75" cy="390.50" r="1.15" fill="#a6042c"/>
<line x1="426.25" y1="386.25" x2="433.75" y2="386.25" stroke="#a6042c" stroke-width="0.9" />
<circle cx="441.25" cy="379.25" r="1.15" fill="#2f3f66"/>
<circle cx="439.50" cy="382.50" r="1.15" fill="#2f3f66"/>
<circle cx="442.50" cy="383.25" r="1.15" fill="#2f3f66"/>
<circle cx="441.25" cy="385.00" r="1.15" fill="#2f3f66"/>
<line x1="438.75" y1="382.00" x2="446.25" y2="382.00" stroke="#2f3f66" stroke-width="0.9" />
<circle cx="453.75" cy="375.50" r="1.15" fill="#a6042c"/>
<circle cx="457.50" cy="375.00" r="1.15" fill="#a6042c"/>
<circle cx="455.00" cy="377.50" r="1.15" fill="#a6042c"/>
<circle cx="452.50" cy="378.75" r="1.15" fill="#a6042c"/>
<circle cx="458.75" cy="378.75" r="1.15" fill="#a6042c"/>
<circle cx="456.25" cy="380.75" r="1.15" fill="#a6042c"/>
<line x1="451.25" y1="377.00" x2="459.50" y2="377.00" stroke="#a6042c" stroke-width="0.9" />
<circle cx="466.25" cy="375.00" r="1.15" fill="#2f3f66"/>
<circle cx="470.00" cy="376.25" r="1.15" fill="#2f3f66"/>
<circle cx="465.00" cy="378.75" r="1.15" fill="#2f3f66"/>
<circle cx="467.00" cy="381.25" r="1.15" fill="#2f3f66"/>
<line x1="464.25" y1="377.50" x2="472.00" y2="377.50" stroke="#2f3f66" stroke-width="0.9" />
<circle cx="482.50" cy="396.25" r="1.15" fill="#a6042c"/>
<circle cx="478.75" cy="398.00" r="1.15" fill="#a6042c"/>
<circle cx="477.50" cy="402.50" r="1.15" fill="#a6042c"/>
<circle cx="480.50" cy="403.00" r="1.15" fill="#a6042c"/>
<circle cx="483.75" cy="403.00" r="1.15" fill="#a6042c"/>
<circle cx="480.50" cy="420.50" r="1.15" fill="#a6042c"/>
<line x1="476.25" y1="403.00" x2="484.50" y2="403.00" stroke="#a6042c" stroke-width="0.9" />
<circle cx="491.25" cy="388.75" r="1.15" fill="#2f3f66"/>
<circle cx="495.00" cy="390.50" r="1.15" fill="#2f3f66"/>
<circle cx="489.50" cy="392.50" r="1.15" fill="#2f3f66"/>
<circle cx="493.00" cy="394.50" r="1.15" fill="#2f3f66"/>
<circle cx="496.25" cy="392.00" r="1.15" fill="#2f3f66"/>
<line x1="489.50" y1="392.00" x2="497.50" y2="392.00" stroke="#2f3f66" stroke-width="0.9" />
<circle cx="502.50" cy="409.50" r="1.15" fill="#a6042c"/>
<circle cx="506.25" cy="408.00" r="1.15" fill="#a6042c"/>
<circle cx="503.75" cy="412.00" r="1.15" fill="#a6042c"/>
<circle cx="507.50" cy="412.00" r="1.15" fill="#a6042c"/>
<circle cx="505.00" cy="413.75" r="1.15" fill="#a6042c"/>
<circle cx="504.50" cy="416.25" r="1.15" fill="#a6042c"/>
<circle cx="505.50" cy="422.00" r="1.15" fill="#a6042c"/>
<line x1="502.00" y1="412.00" x2="509.50" y2="412.00" stroke="#a6042c" stroke-width="0.9" />
</svg></div></body></html>
